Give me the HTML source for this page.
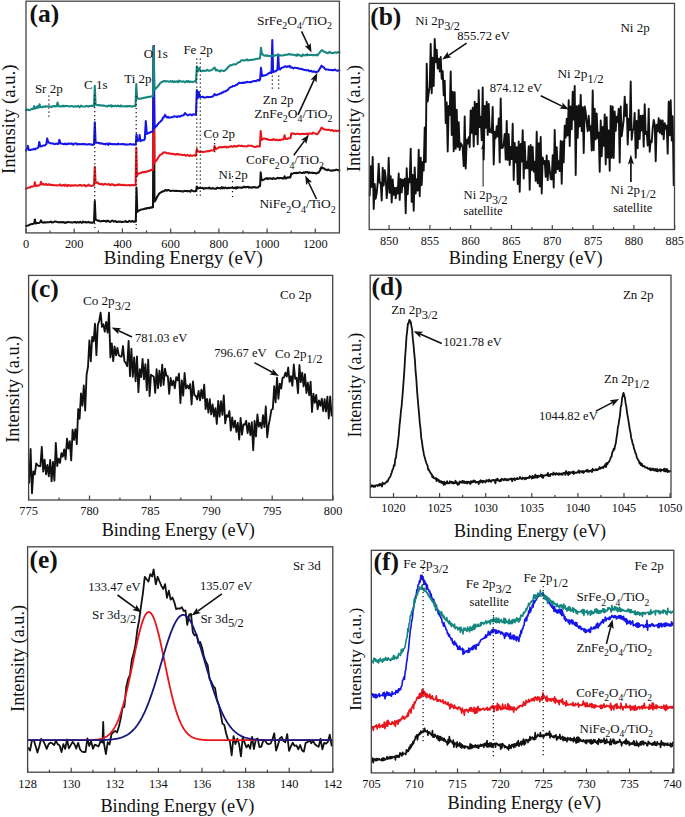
<!DOCTYPE html>
<html><head><meta charset="utf-8"><style>
html,body{margin:0;padding:0;background:#fff;width:685px;height:817px;overflow:hidden}
svg{display:block}
text{font-family:"Liberation Serif",serif}
</style></head><body>
<svg width="685" height="817" viewBox="0 0 685 817" font-family="Liberation Serif">
<rect width="685" height="817" fill="#fff"/>
<polyline points="26,226 27,225.66 28,225.5 29,225.18 30,224.5 31,224.25 32,224.06 33,224 34.3,223 34.9,219.5 35.6,223.5 36.73,223.01 37.87,223.09 39,223 40.4,222 41,220.4 42,222.3 43,222.66 44,222.38 45,222.2 46,222.54 47,222.25 48,222.28 49,222.18 50,222.1 50.91,221.53 51.82,222.42 52.73,222.3 53.64,222.31 54.55,221.55 55.45,221.54 56.36,221.85 57.27,222.01 58.18,222.29 59.09,222.17 60,222.38 60.91,221.98 61.82,222.33 62.73,222.37 63.64,222 64.55,222.85 65.45,222.45 66.36,222.68 67.27,222.06 68.18,222.02 69.09,222.17 70,222.3 70.92,222.26 71.85,222.52 72.77,222.39 73.69,222.14 74.62,221.97 75.54,222.12 76.46,222.73 77.38,222.02 78.31,222.39 79.23,222.45 80.15,221.78 81.08,222.32 82,222.76 82.92,221.59 83.85,222.19 84.77,222.26 85.69,222.01 86.62,222.47 87.54,222.28 88.46,221.79 89.38,222.59 90.31,222.53 91.23,222.63 92.15,222.8 93.08,222.43 94,222.3 94.8,201.1 95.6,219.5 96.8,220.19 98,220.8 99,220.55 100,221.2 100.91,221.43 101.82,221.02 102.73,221.1 103.64,220.83 104.55,220.95 105.45,221.12 106.36,221.78 107.27,220.63 108.18,220.85 109.09,221.47 110,221.91 110.91,221.62 111.82,220.77 112.73,220.57 113.64,221.6 114.55,221.23 115.45,221.12 116.36,221.87 117.27,221.93 118.18,221.62 119.09,221.67 120,221.6 120.93,221.75 121.86,222.15 122.79,221.8 123.72,221.76 124.65,221.76 125.58,221.02 126.51,222.01 127.44,221.89 128.36,221.73 129.29,220.85 130.22,221.31 131.15,221.82 132.08,220.89 133.01,221.45 133.94,221.87 134.87,221.05 135.8,221.5 136.5,187.6 137.3,212 138,210.4 139,210.71 140,210.08 141,209.58 142,209.49 143,209.34 144,208.9 145,208.6 146,208.83 147,208.02 148,207.93 149,208.26 150,207.73 151,207.24 152,207.71 153,207.2 153.7,46 154.5,201.6 155.75,199.81 157,197 158,195.48 159,193.78 160,192.9 161,192.31 162,191.77 163,191.18 164,191.23 165,190.2 165.94,189.89 166.88,190.74 167.81,189.91 168.75,190.12 169.69,190.67 170.62,190.9 171.56,190.85 172.5,190.72 173.44,190.7 174.38,190.75 175.31,190.95 176.25,190.74 177.19,190.95 178.12,191.1 179.06,190.95 180,191 180.94,191.27 181.88,191.21 182.82,191.72 183.76,191.14 184.71,190.88 185.65,190.9 186.59,191.04 187.53,191.37 188.47,190.94 189.41,191.19 190.35,191.71 191.29,190.17 192.24,190.68 193.18,191.17 194.12,191.23 195.06,191.18 196,191.1 196.8,186.5 198,188.5 199,188 200,187.8 200.91,188.09 201.82,188.03 202.73,187.81 203.64,188.91 204.55,188.24 205.45,187.99 206.36,188.21 207.27,188.23 208.18,188.35 209.09,187.48 210,188.5 210.9,188.3 211.8,188.79 212.7,188 213.6,188.35 214.5,188.67 215.4,188.61 216.3,188.8 217.2,187.65 218.1,188.09 219,188.06 219.9,188.37 220.8,188.5 221.7,187.15 222.6,188.43 223.5,187.51 224.4,188.23 225.3,187.43 226.2,187.99 227.1,188.31 228,187.81 228.9,187.89 229.8,188.07 230.7,187.81 231.6,187.7 232.5,187.7 233.42,188.21 234.34,188.01 235.26,187.52 236.18,188.56 237.11,187.17 238.03,187.86 238.95,187.42 239.87,187.54 240.79,187.71 241.71,187.51 242.63,187.63 243.55,186.85 244.47,186.83 245.39,187.55 246.32,186.97 247.24,186.92 248.16,186.74 249.08,187.67 250,187.2 251,187.5 252,187.8 253,187 254,187.37 255,187.02 256,187.73 257,187.5 258.03,187.56 259.07,186.19 260.1,186 260.7,172.4 261.5,180 262.67,180.15 263.83,179.55 265,178.8 265.94,178.69 266.88,178.01 267.81,179.14 268.75,178.57 269.69,178.34 270.62,178.64 271.56,178.59 272.5,178.92 273.44,177.99 274.38,178.7 275.31,178.77 276.25,178.71 277.19,178.09 278.12,177.84 279.06,178.41 280,178 280.95,178.09 281.9,178.14 282.85,178.65 283.8,178.2 284.6,176.3 285.5,178.5 286.46,178.21 287.42,177.3 288.38,177.76 289.34,177.05 290.3,177.5 291.3,173.5 292.27,173.66 293.23,173.37 294.2,172.92 295.17,173.01 296.13,173.18 297.1,172.79 298.07,173.11 299.03,172.5 300,172.4 300.94,172.8 301.88,173 302.81,173.08 303.75,172.31 304.69,172.9 305.62,171.97 306.56,172.28 307.5,172.01 308.44,173.11 309.38,172.34 310.31,172.81 311.25,172.78 312.19,172.88 313.12,172.72 314.06,173.04 315,173 316.17,173.56 317.33,172.88 318.5,172.8 319.5,171.19 320.5,169.55 321.5,167.4 322.67,168.03 323.83,168.36 325,169.5 326,169.49 327,170.24 328,169.46 329,170.01 330,170.4 330.94,170.72 331.88,170.62 332.82,170.31 333.76,170.56 334.7,170.31 335.64,169.81 336.58,169.64 337.52,169.94 338.46,170.45 339.4,170.1" fill="none" stroke="#111" stroke-width="2.05" stroke-linejoin="round" stroke-linecap="round" />
<polyline points="26,188.8 27,188.28 28,187.83 29,187.56 30,187.5 31,186.63 32,186.79 33,186.5 34.3,185.5 34.9,182.2 35.6,186 36.73,185.42 37.87,185.79 39,185.5 40.4,184.5 41,181.8 42.2,184.5 43.18,183.74 44.15,184.74 45.12,184.46 46.1,184.07 47.08,185.07 48.05,184.78 49.02,184.16 50,185 50.91,184.71 51.82,185.13 52.73,184.88 53.64,185.33 54.55,185.33 55.45,185.32 56.36,185.21 57.27,185.58 58.18,185.35 59.09,185.29 60,184.42 60.91,185.48 61.82,185.64 62.73,185.09 63.64,185.04 64.55,185.9 65.45,184.62 66.36,185.41 67.27,186.11 68.18,184.95 69.09,185.53 70,185.3 70.92,185.97 71.85,185.27 72.77,185.52 73.69,185.65 74.62,185.02 75.54,185.31 76.46,185.46 77.38,185.65 78.31,185.36 79.23,185.31 80.15,185.03 81.08,185.27 82,185.71 82.92,185.44 83.85,185.12 84.77,185.13 85.69,186.36 86.62,185.84 87.54,185.67 88.46,184.55 89.38,185.68 90.31,185.64 91.23,186.07 92.15,185.63 93.08,185.47 94,185.5 94.8,167 95.6,182.2 96.7,182.83 97.8,182.42 98.9,183.91 100,184 100.91,184.16 101.82,183.85 102.73,184.6 103.64,184.82 104.55,183.74 105.45,184.04 106.36,184.42 107.27,184.43 108.18,184.27 109.09,184.11 110,185.24 110.91,184.91 111.82,184.17 112.73,184.17 113.64,185.28 114.55,185.07 115.45,185.41 116.36,185.1 117.27,184.56 118.18,185 119.09,184.2 120,185 120.92,184.75 121.84,185 122.75,185.22 123.67,184.79 124.59,185.02 125.51,185.23 126.42,185.21 127.34,185.32 128.26,185.18 129.18,185 130.09,185.41 131.01,185.16 131.93,184.86 132.85,184.95 133.76,185.18 134.68,185.15 135.6,185.2 136.3,147.7 137,176 138,173.6 139,173.4 140,173.09 141,172.89 142,172.52 143,171.87 144,172.2 145,171.8 146,171.94 147,171.5 148,171.06 149,171.06 150,170.34 151,169.79 152,170.25 153,170 153.7,46 154.5,163 155.67,161.01 156.83,159.93 158,158 159,156.54 160,154.92 161,154.4 162,154.23 163,152.6 164,152.58 165,152.35 166,152.68 167,153.24 168,153.35 169,153.35 170,153.4 170.91,154.02 171.82,153.85 172.73,153.69 173.64,154.01 174.55,154.48 175.45,154.34 176.36,154.46 177.27,153.82 178.18,154.25 179.09,154.66 180,154.5 180.94,154.47 181.88,155.02 182.82,154.92 183.76,155.1 184.71,154.78 185.65,155.81 186.59,155.43 187.53,154.99 188.47,155.17 189.41,156.11 190.35,155.16 191.29,155.65 192.24,155.76 193.18,155.49 194.12,155.15 195.06,155.7 196,155.7 196.8,149 198,151.5 199,151.65 200,151.95 201,151.86 202,151.62 203,151.94 204,151.86 205,151.7 206,151.59 207,151.36 208,151.07 209,151.22 210,150.8 210.95,150.36 211.9,150.43 212.85,150.58 213.8,150.5 214.6,145.9 215.6,149.5 216.7,148.44 217.8,148.25 218.9,147.15 220,147.3 220.94,147 221.88,147.39 222.81,147.33 223.75,147.06 224.69,146.94 225.62,146.47 226.56,147.55 227.5,147.03 228.44,147.18 229.38,146.43 230.31,146.62 231.25,145.99 232.19,146.84 233.12,146.84 234.06,145.79 235,146.4 235.94,146.34 236.88,146.55 237.81,145.67 238.75,145.61 239.69,145.84 240.62,145.95 241.56,145.65 242.5,146.11 243.44,146.15 244.38,146.25 245.31,146.23 246.25,146.48 247.19,146.32 248.12,145.42 249.06,145.66 250,145.8 251,145.65 252,145.86 253,146.43 254,146.68 255,146.9 255.96,146.99 256.92,146.18 257.88,146.23 258.84,146.57 259.8,146.5 260.7,131 261.6,140 262.8,139.18 264,138.5 265,138.62 266,138.94 267,138.93 268,139.68 269,139.79 270,139.9 270.91,139.9 271.82,139.72 272.73,139.92 273.64,139.06 274.55,139.69 275.45,140.08 276.36,139.56 277.27,140.19 278.18,140.2 279.09,139.69 280,140.2 280.95,139.81 281.9,139.49 282.85,139.46 283.8,139 284.6,135.2 285.5,139 286.75,138.96 288,138.5 289.25,138.24 290.5,138 291.3,133.5 292.27,133.29 293.23,133.63 294.2,133.74 295.17,134.11 296.13,134.05 297.1,133.78 298.07,133.65 299.03,134.08 300,134.3 300.91,133.97 301.82,133.77 302.73,134.04 303.64,133.84 304.55,133.97 305.45,134.05 306.36,133.65 307.27,134.53 308.18,133.53 309.09,133.96 310,133.5 311,133.54 312,133.89 313,132.67 314,133.24 315,133.59 316,133.71 317,134.32 318,133.5 319.17,131.65 320.33,130.01 321.5,127.6 322.67,128.5 323.83,129.2 325,129.5 326,129.8 327,129.69 328,130.04 329,129.6 330,130.1 330.94,130.6 331.88,129.92 332.82,130.46 333.76,131.2 334.7,130.47 335.64,130.65 336.58,131.14 337.52,130.83 338.46,130.63 339.4,131" fill="none" stroke="#e8161c" stroke-width="2.05" stroke-linejoin="round" stroke-linecap="round" />
<polyline points="26,150.6 27.3,148 27.9,145.9 28.8,150 29.87,149.92 30.93,149.87 32,149.5 33,149.5 34,148.73 35,149.36 36,148.5 37.25,148.33 38.5,147 39.3,142 40.3,146.5 41.22,146.26 42.15,146.09 43.08,145.6 44,145.5 45.2,145.24 46.4,144 47.2,138.4 48.3,142.5 49.22,142.53 50.15,143.29 51.08,143.16 52,143.6 52.93,143.39 53.86,143.91 54.79,144.15 55.71,143.71 56.64,143.51 57.57,144.06 58.5,143.8 59.4,139.8 60.4,143.5 61.36,143.51 62.32,143.67 63.28,144.12 64.24,144.02 65.2,143.47 66.16,144.48 67.12,143.71 68.08,144.02 69.04,143.54 70,143.8 70.91,143.82 71.82,143.26 72.73,144.53 73.64,144.42 74.55,143.56 75.45,143.49 76.36,143.49 77.27,144.5 78.18,143.97 79.09,144.14 80,144.2 80.93,144.11 81.87,144.2 82.8,143.88 83.73,144.29 84.67,143.8 85.6,144.29 86.53,144.45 87.47,144.52 88.4,144.3 89.33,144.08 90.27,144.48 91.2,144.27 92.13,145.01 93.07,144.75 94,144.5 94.8,122.3 95.6,142.4 96.7,142.63 97.8,142.79 98.9,142.98 100,143.5 100.91,143.22 101.82,143.47 102.73,143.74 103.64,143.86 104.55,143.93 105.45,144.51 106.36,143.57 107.27,143.87 108.18,144.89 109.09,143.3 110,144 110.91,143.84 111.82,144.11 112.73,144.14 113.64,144.25 114.55,144.05 115.45,144.29 116.36,144.21 117.27,144.49 118.18,143.58 119.09,143.96 120,144.3 120.93,144.31 121.86,143.96 122.79,143.97 123.72,144.57 124.65,144.13 125.58,144.59 126.51,144.64 127.44,144.5 128.36,144.58 129.29,144.38 130.22,143.94 131.15,144.43 132.08,144.61 133.01,144.28 133.94,144.44 134.87,144.75 135.8,144.5 136.5,134.2 137.3,141 139,140 139.6,135 140.4,141.2 141.5,140.34 142.6,140.32 143.7,140.2 144.8,139 145.8,121 146.8,134 147.87,133.27 148.93,132.98 150,132.4 151,131.88 152,132.01 153,131 153.7,46 154.5,128 155.67,126.78 156.83,125.65 158,124 159,122.78 160,122.04 161,121.07 162,120.1 163,117.75 164,117.14 165,114.9 166,116.51 167,117.5 168,116.89 169,117.76 170,117.5 171,117.25 172,117.26 173,117.03 174,116.18 175,116.5 176,116.45 177,117.06 178,116.36 179,116.22 180,116.6 181.17,115.76 182.33,115.44 183.5,115.5 185,113.1 186,114.07 187,114.8 188,115.29 189,114.75 190,114.5 191,114.6 192,115.32 193,114.37 194,114.33 195,114.77 196,114.6 196.8,90 197.8,98 198.8,92 199.8,97 200.84,97.29 201.88,96.84 202.92,96.89 203.96,97.5 205,97.5 206,97.49 207,96.84 208,97.13 209,96.91 210,97 211,96.99 212,96.63 213,96.5 214.6,94 216,95.3 217,94.82 218,94.28 219,94.32 220,93.5 221,93.57 222,92.54 223,92.55 224,91.57 225,91.44 226,91 227,90.39 228,89.78 229,88.24 230,87.5 231,87.11 232,86.85 233,85.9 234,86.07 235,85.7 236,84.92 237,84.75 238,83.68 239,82.85 240,83 240.91,82.93 241.82,82.93 242.73,82.56 243.64,82.98 244.55,82.5 245.45,82.3 246.36,82.59 247.27,81.8 248.18,82.03 249.09,82.17 250,82.1 251,82.15 252,81.56 253,81.48 254,80.9 255,80.99 256,81.23 257,80.4 258.03,79.86 259.07,80.63 260.1,79.5 261,67.8 262,76 263,75.57 264,75.61 265,75.4 266,74.89 267,74.63 268,73.7 269.17,73.03 270.33,72.5 271.5,73 272.3,40.1 273.1,72 274.18,71.71 275.25,71.28 276.32,70.72 277.4,70 278.2,54.4 279,69 280,69.52 281,68.27 282,67.8 283,67.36 284,67.06 285,66.2 285.94,66.49 286.88,67.09 287.81,66.24 288.75,66.69 289.69,65.78 290.62,67.42 291.56,67.16 292.5,67.77 293.44,68.36 294.38,67.76 295.31,67.83 296.25,67.9 297.19,67.94 298.12,68.17 299.06,68.77 300,68.7 300.94,68.92 301.88,69.14 302.81,69.26 303.75,69.85 304.69,69.9 305.62,69.89 306.56,70.38 307.5,70.3 308.44,70.15 309.38,71.27 310.31,71.13 311.25,70.84 312.19,71.76 313.12,71.71 314.06,71.25 315,72 316,72.4 317,71.78 318,71.5 319.17,69.88 320.33,67.7 321.5,65.7 322.67,66.75 323.83,67.36 325,69 326,69.54 327,69.41 328,69.5 329,69.92 330,70 330.94,70.07 331.88,70.32 332.82,69.99 333.76,70.15 334.7,69.45 335.64,70.09 336.58,70.52 337.52,70.79 338.46,70.23 339.4,70.4" fill="none" stroke="#1515e8" stroke-width="2.05" stroke-linejoin="round" stroke-linecap="round" />
<polyline points="26,110.2 27,109.81 28,109.5 29,110.3 30,110 31,109.29 32,108.8 33.4,109 34.2,106 35,108.5 36.4,108 37.2,106.2 38,107.8 38.8,107.5 39.5,104.2 40.4,107 41.3,107.13 42.2,107.34 43.1,106.64 44,106.5 45,106.9 46,106.2 47,106.5 48,106.4 48.96,106.36 49.91,106.42 50.87,106.76 51.82,107.19 52.78,106.11 53.73,106.13 54.69,106.5 55.64,105.94 56.6,106.3 57.6,102.6 58.6,106.2 59.55,106.37 60.5,106.4 61.45,106.1 62.4,106.39 63.35,105.66 64.3,106.47 65.25,105.66 66.2,105.96 67.15,106.01 68.1,106.06 69.05,106.5 70,106.2 70.92,106.23 71.85,106.07 72.77,106.4 73.69,106.77 74.62,106.22 75.54,106.35 76.46,106.66 77.38,106.32 78.31,105.79 79.23,107.11 80.15,107.02 81.08,105.55 82,106.24 82.92,106.4 83.85,106.6 84.77,106.5 85.69,106.17 86.62,105.9 87.54,106.31 88.46,106.64 89.38,105.9 90.31,105.93 91.23,106.28 92.15,105.61 93.08,106.21 94,106.3 94.8,85.7 95.6,104.8 96.7,104.82 97.8,105.31 98.9,105.08 100,105.5 100.91,105.24 101.82,105.45 102.73,105.62 103.64,105.45 104.55,105.73 105.45,106.04 106.36,106.23 107.27,106.46 108.18,105.63 109.09,105.81 110,106 110.91,105.14 111.82,106.68 112.73,105.77 113.64,106.02 114.55,106.22 115.46,105.57 116.38,106.21 117.29,106.05 118.2,105.43 119.11,106.17 120.02,106.5 120.93,105.43 121.84,106.38 122.75,106.17 123.66,106.27 124.57,106.27 125.48,106.58 126.39,106.05 127.3,106.44 128.21,106 129.12,106.4 130.04,105.87 130.95,106.13 131.86,106.78 132.77,106.33 133.68,106.13 134.59,105.79 135.5,106.2 136.3,84 137.1,98.8 138.07,98.42 139.03,98.67 140,98.5 141,98.63 142,98.25 143,98.08 144,97.69 145,97.5 146,97.81 147,97.04 148,96.82 149,97.16 150,96.71 151,96.43 152,96.16 153,96.2 153.7,46.3 154.5,90 155.67,88.58 156.83,87.55 158,86 159,84.96 160,83.24 161,82.5 162,82.05 163,81.3 163.94,81.37 164.89,80.97 165.83,81.6 166.78,81.25 167.72,81.24 168.67,81.65 169.61,81.84 170.56,81.15 171.5,81.55 172.44,81.1 173.39,82.23 174.33,81.26 175.28,81.86 176.22,81.23 177.17,81.75 178.11,82.25 179.06,80.6 180,81.5 180.94,81.37 181.88,81.71 182.82,81.52 183.76,81.34 184.71,82.34 185.65,81.63 186.59,81.05 187.53,81.94 188.47,81.06 189.41,82.08 190.35,81.49 191.29,81.76 192.24,82.17 193.18,81.79 194.12,81.28 195.06,81.19 196,81.8 196.8,66.4 197.8,71.5 199,68 200.5,70.8 201.45,71.18 202.4,71 203.35,70.42 204.3,70.98 205.25,70.82 206.2,70.85 207.15,69.8 208.1,70.45 209.05,70.85 210,70.5 211,70.26 212,69.81 213,69 214.6,67.5 216,70.5 216.96,69.67 217.91,70.63 218.87,70.77 219.82,71.53 220.78,70.33 221.73,70.58 222.69,70.75 223.64,71.08 224.6,70.8 225.66,69.58 226.72,69.08 227.78,67.34 228.84,66.65 229.9,65.5 230.92,65.12 231.94,65.16 232.96,64.66 233.98,64.14 235,64.5 236,64.28 237,63.41 238,62.5 239,62.17 240,61.85 241,60.56 242,60.3 243,60.22 244,60.41 245,60.37 246,60.03 247,59.38 248,60.51 249,60.15 250,60 251,59.88 252,59.66 253,59.73 254,59.37 255,59.4 256,58.86 257,58.78 258,58.65 259,58.47 260,58.5 261,47.7 262,54.4 263,54.54 264,55.5 265,55.81 266,55.21 267,55.98 268,55.48 269,56.04 270,56 270.91,56.42 271.82,55.94 272.73,55.55 273.64,55.76 274.55,55.73 275.45,55.01 276.36,55.34 277.27,55.55 278.18,55.26 279.09,55.39 280,55.3 280.91,55.48 281.82,55.42 282.73,55.4 283.64,55.22 284.55,54.84 285.45,54.86 286.36,54.7 287.27,54.61 288.18,54.58 289.09,53.97 290,54.5 290.91,54.47 291.82,54.67 292.73,54.43 293.64,54.86 294.55,55.13 295.45,54.99 296.36,55.86 297.27,54.32 298.18,55.25 299.09,54.77 300,55.5 300.91,55.78 301.82,56.3 302.73,54.43 303.64,55.29 304.55,55.36 305.45,55.01 306.36,55.25 307.27,54.21 308.18,55.23 309.09,54.99 310,54.8 310.91,54.9 311.82,54.77 312.74,55.29 313.65,54.98 314.56,55.32 315.48,55.15 316.39,54.63 317.3,55.5 318.35,54.16 319.4,52.92 320.45,51.79 321.5,50.2 322.4,50.35 323.3,51.11 324.2,51.8 325.1,52.09 326,52.5 326.96,52.95 327.91,53.23 328.87,52.22 329.83,51.88 330.79,52.87 331.74,53.12 332.7,52.92 333.66,52.9 334.61,52.41 335.57,52.39 336.53,52.97 337.49,52.35 338.44,52.05 339.4,52.7" fill="none" stroke="#16877f" stroke-width="2.05" stroke-linejoin="round" stroke-linecap="round" />
<line x1="48.9" y1="95.5" x2="48.9" y2="118" stroke="#111" stroke-width="1.2" stroke-dasharray="1.2 2.8"/>
<line x1="94.8" y1="95" x2="94.8" y2="228" stroke="#111" stroke-width="1.2" stroke-dasharray="1.2 2.8"/>
<line x1="136.2" y1="96" x2="136.2" y2="229" stroke="#111" stroke-width="1.2" stroke-dasharray="1.2 2.8"/>
<line x1="196.8" y1="58.5" x2="196.8" y2="197" stroke="#111" stroke-width="1.2" stroke-dasharray="1.2 2.8"/>
<line x1="200.3" y1="58.5" x2="200.3" y2="197" stroke="#111" stroke-width="1.2" stroke-dasharray="1.2 2.8"/>
<line x1="214.6" y1="139" x2="214.6" y2="153" stroke="#111" stroke-width="1.2" stroke-dasharray="1.2 2.8"/>
<line x1="232.5" y1="176" x2="232.5" y2="197" stroke="#111" stroke-width="1.2" stroke-dasharray="1.2 3.8"/>
<line x1="272.3" y1="75.5" x2="272.3" y2="90" stroke="#111" stroke-width="1.2" stroke-dasharray="1.2 2.8"/>
<line x1="278.7" y1="75.5" x2="278.7" y2="90" stroke="#111" stroke-width="1.2" stroke-dasharray="1.2 2.8"/>
<rect x="26" y="1.2" width="313.4" height="231.7" fill="none" stroke="#444" stroke-width="1.3"/>
<line x1="26" y1="232.9" x2="26" y2="228.4" stroke="#444" stroke-width="1.2"/>
<line x1="74.22" y1="232.9" x2="74.22" y2="228.4" stroke="#444" stroke-width="1.2"/>
<line x1="122.43" y1="232.9" x2="122.43" y2="228.4" stroke="#444" stroke-width="1.2"/>
<line x1="170.65" y1="232.9" x2="170.65" y2="228.4" stroke="#444" stroke-width="1.2"/>
<line x1="218.86" y1="232.9" x2="218.86" y2="228.4" stroke="#444" stroke-width="1.2"/>
<line x1="267.08" y1="232.9" x2="267.08" y2="228.4" stroke="#444" stroke-width="1.2"/>
<line x1="315.29" y1="232.9" x2="315.29" y2="228.4" stroke="#444" stroke-width="1.2"/>
<line x1="50.11" y1="232.9" x2="50.11" y2="230.4" stroke="#444" stroke-width="1.2"/>
<line x1="98.32" y1="232.9" x2="98.32" y2="230.4" stroke="#444" stroke-width="1.2"/>
<line x1="146.54" y1="232.9" x2="146.54" y2="230.4" stroke="#444" stroke-width="1.2"/>
<line x1="194.75" y1="232.9" x2="194.75" y2="230.4" stroke="#444" stroke-width="1.2"/>
<line x1="242.97" y1="232.9" x2="242.97" y2="230.4" stroke="#444" stroke-width="1.2"/>
<line x1="291.18" y1="232.9" x2="291.18" y2="230.4" stroke="#444" stroke-width="1.2"/>
<text x="26" y="248.4" font-size="12.4" text-anchor="middle" font-weight="normal" fill="#111" >0</text>
<text x="74.22" y="248.4" font-size="12.4" text-anchor="middle" font-weight="normal" fill="#111" >200</text>
<text x="122.43" y="248.4" font-size="12.4" text-anchor="middle" font-weight="normal" fill="#111" >400</text>
<text x="170.65" y="248.4" font-size="12.4" text-anchor="middle" font-weight="normal" fill="#111" >600</text>
<text x="218.86" y="248.4" font-size="12.4" text-anchor="middle" font-weight="normal" fill="#111" >800</text>
<text x="267.08" y="248.4" font-size="12.4" text-anchor="middle" font-weight="normal" fill="#111" >1000</text>
<text x="315.29" y="248.4" font-size="12.4" text-anchor="middle" font-weight="normal" fill="#111" >1200</text>
<text x="103.8" y="263.9" font-size="18.74" fill="#111" textLength="159" lengthAdjust="spacingAndGlyphs">Binding Energy (eV)</text>
<text transform="translate(14.6,119.2) rotate(-90)" font-size="18.7" text-anchor="middle" fill="#111">Intensity (a.u.)</text>
<text x="29.5" y="22" font-size="25.5" text-anchor="start" font-weight="bold" fill="#111" >(a)</text>
<text x="34.9" y="93.2" font-size="13" text-anchor="start" font-weight="normal" fill="#111" >Sr 2p</text>
<text x="84" y="89.2" font-size="13" text-anchor="start" font-weight="normal" fill="#111" >C 1s</text>
<text x="124.2" y="83" font-size="13" text-anchor="start" font-weight="normal" fill="#111" >Ti 2p</text>
<text x="143.7" y="58.2" font-size="13" text-anchor="start" font-weight="normal" fill="#111" >O 1s</text>
<text x="183.4" y="53.6" font-size="13" text-anchor="start" font-weight="normal" fill="#111" >Fe 2p</text>
<text x="262.7" y="104" font-size="13" text-anchor="start" font-weight="normal" fill="#111" >Zn 2p</text>
<text x="203.6" y="137.7" font-size="13" text-anchor="start" font-weight="normal" fill="#111" >Co 2p</text>
<text x="218.5" y="178.8" font-size="13" text-anchor="start" font-weight="normal" fill="#111" >Ni 2p</text>
<text x="256.9" y="24.5" font-size="13" text-anchor="start" fill="#111" textLength="75.1" lengthAdjust="spacingAndGlyphs"><tspan dy="0">SrFe</tspan><tspan dy="4.55" font-size="9.62">2</tspan><tspan dy="-4.55">O</tspan><tspan dy="4.55" font-size="9.62">4</tspan><tspan dy="-4.55">/TiO</tspan><tspan dy="4.55" font-size="9.62">2</tspan></text>
<text x="254.3" y="117.9" font-size="13" text-anchor="start" fill="#111" textLength="78.1" lengthAdjust="spacingAndGlyphs"><tspan dy="0">ZnFe</tspan><tspan dy="4.55" font-size="9.62">2</tspan><tspan dy="-4.55">O</tspan><tspan dy="4.55" font-size="9.62">4</tspan><tspan dy="-4.55">/TiO</tspan><tspan dy="4.55" font-size="9.62">2</tspan></text>
<text x="246" y="164.1" font-size="13" text-anchor="start" fill="#111" textLength="78" lengthAdjust="spacingAndGlyphs"><tspan dy="0">CoFe</tspan><tspan dy="4.55" font-size="9.62">2</tspan><tspan dy="-4.55">O</tspan><tspan dy="4.55" font-size="9.62">4</tspan><tspan dy="-4.55">/TiO</tspan><tspan dy="4.55" font-size="9.62">2</tspan></text>
<text x="259.4" y="208.2" font-size="13" text-anchor="start" fill="#111" textLength="76.4" lengthAdjust="spacingAndGlyphs"><tspan dy="0">NiFe</tspan><tspan dy="4.55" font-size="9.62">2</tspan><tspan dy="-4.55">O</tspan><tspan dy="4.55" font-size="9.62">4</tspan><tspan dy="-4.55">/TiO</tspan><tspan dy="4.55" font-size="9.62">2</tspan></text>
<line x1="301.6" y1="31.4" x2="308.44" y2="45.98" stroke="#111" stroke-width="1.6"/>
<polygon points="311.5,52.5 304.69,45.75 308.44,45.98 310.66,42.95" fill="#111"/>
<line x1="298" y1="114.8" x2="314.29" y2="79.44" stroke="#111" stroke-width="1.6"/>
<polygon points="317.3,72.9 316.53,82.46 314.29,79.44 310.54,79.69" fill="#111"/>
<line x1="293.8" y1="155.3" x2="304.63" y2="140.6" stroke="#111" stroke-width="1.6"/>
<polygon points="308.9,134.8 306.22,144 304.63,140.6 300.91,140.09" fill="#111"/>
<line x1="316.5" y1="199" x2="308.32" y2="181.99" stroke="#111" stroke-width="1.6"/>
<polygon points="305.2,175.5 312.07,182.18 308.32,181.99 306.13,185.04" fill="#111"/>
<polyline points="369.7,195.37 370.7,166.24 371.7,186.87 372.7,156.86 373.7,208.97 374.7,183.83 375.7,198.7 376.7,193.29 377.7,182.65 378.7,163.6 379.7,182.7 380.7,182.81 381.7,200.51 382.7,167.8 383.7,185.46 384.7,170.25 385.7,177.35 386.7,198.14 387.7,187.85 388.7,157.74 389.7,192.68 390.7,176.32 391.7,202.5 392.7,179.46 393.7,194.76 394.7,187.75 395.7,198.32 396.7,187.58 397.7,193.57 398.7,173.46 399.7,199.92 400.7,179.02 401.7,192.41 402.7,179.59 403.7,186.07 404.7,178.66 405.7,213.26 406.7,168.3 407.7,194.31 408.7,178.62 409.7,182.23 410.7,148.64 411.7,201.87 412.7,175.05 413.7,210.78 414.7,167.33 415.7,193.51 416.7,179.15 417.7,190.66 418.7,149.76 419.7,196.19 420.7,157.59 421.7,184.97 422.7,161.88 423.7,170.45 424.7,127.5 425.7,162.1 426.7,63.72 427.7,101.47 428.7,92.8 429.7,87.26 430.7,43.89 431.7,93.3 432.7,57.6 433.7,85.95 434.7,38.94 435.7,62.29 436.7,49.81 437.7,68.48 438.7,58.58 439.7,71.53 440.7,56.87 441.7,78.82 442.7,71.16 443.7,95.28 444.7,80.82 445.7,122.98 446.7,102.56 447.7,151.53 448.7,105.95 449.7,114.94 450.7,71.46 451.7,134.93 452.7,91.66 453.7,151.27 454.7,92.25 455.7,148.75 456.7,109.72 457.7,146.9 458.7,122.18 459.7,149.93 460.7,143.26 461.7,144.52 462.7,147.77 463.7,166.14 464.7,116.42 465.7,168.47 466.7,139.78 467.7,143.61 468.7,137.29 469.7,147.02 470.7,110.37 471.7,132.86 472.7,107.82 473.7,146.5 474.7,101.74 475.7,134.4 476.7,103.8 477.7,144.21 478.7,90.13 479.7,127.02 480.7,116.59 481.7,140.12 482.7,87.38 483.7,159.53 484.7,106.01 485.7,127.7 486.7,101.65 487.7,134.91 488.7,103.84 489.7,132.15 490.7,129.4 491.7,132.77 492.7,107.01 493.7,164.44 494.7,131.69 495.7,138.17 496.7,126.11 497.7,136.46 498.7,118.48 499.7,162.4 500.7,98.44 501.7,148.01 502.7,147.61 503.7,144.23 504.7,133.94 505.7,159.67 506.7,120.89 507.7,159.89 508.7,134.28 509.7,165 510.7,146.85 511.7,159.06 512.7,123.78 513.7,179.94 514.7,142.91 515.7,162.26 516.7,147.31 517.7,183.97 518.7,141.37 519.7,191.77 520.7,143.94 521.7,161.5 522.7,130.11 523.7,178.58 524.7,141.89 525.7,168.53 526.7,161.6 527.7,168.25 528.7,146.26 529.7,189.76 530.7,145 531.7,169.94 532.7,146.99 533.7,171.55 534.7,161.71 535.7,180.86 536.7,131.71 537.7,183.3 538.7,143.08 539.7,186.37 540.7,136.86 541.7,193.5 542.7,157.36 543.7,163.86 544.7,160.87 545.7,176.83 546.7,155.35 547.7,180.13 548.7,160.89 549.7,169.58 550.7,178.9 551.7,179.58 552.7,155.22 553.7,187.48 554.7,129.92 555.7,172.73 556.7,147.16 557.7,169.25 558.7,161.31 559.7,171.15 560.7,140.97 561.7,183.7 562.7,141.38 563.7,162.42 564.7,125.67 565.7,137.62 566.7,118.77 567.7,135.43 568.7,100.3 569.7,146.09 570.7,106.47 571.7,129.19 572.7,91.68 573.7,119.61 574.7,86.01 575.7,175.08 576.7,106.29 577.7,137.69 578.7,105.45 579.7,126.37 580.7,94.9 581.7,131.09 582.7,107.32 583.7,153.08 584.7,106.47 585.7,112.27 586.7,122.76 587.7,131.19 588.7,115.6 589.7,130.37 590.7,126.16 591.7,150.5 592.7,90.48 593.7,150.24 594.7,108.76 595.7,139.39 596.7,113.37 597.7,138.16 598.7,132.48 599.7,171.85 600.7,120.5 601.7,156.31 602.7,126.9 603.7,145.89 604.7,114.38 605.7,164.4 606.7,117.26 607.7,157.53 608.7,130.39 609.7,170.74 610.7,105.89 611.7,157.84 612.7,106.48 613.7,158.05 614.7,111.51 615.7,130.89 616.7,116.77 617.7,121.92 618.7,108.82 619.7,162.53 620.7,106.44 621.7,136.23 622.7,128.19 623.7,119.81 624.7,96.65 625.7,116.05 626.7,104.5 627.7,144.58 628.7,118.66 629.7,130.02 630.7,81.5 631.7,139.71 632.7,130.47 633.7,128.62 634.7,112.92 635.7,157.72 636.7,120.91 637.7,148.19 638.7,109.93 639.7,138.95 640.7,115.63 641.7,130.52 642.7,115.54 643.7,146.66 644.7,104.23 645.7,133.99 646.7,131.99 647.7,145.51 648.7,108.66 649.7,151.78 650.7,140.78 651.7,142.27 652.7,128.06 653.7,120 654.7,124.68 655.7,161.28 656.7,124.75 657.7,131.41 658.7,118.12 659.7,132.74 660.7,120.28 661.7,134.23 662.7,120.46 663.7,139.31 664.7,123.2 665.7,128.9 666.7,125.55 667.7,153.61 668.7,101.79 669.7,135.18 670.7,100.21 671.7,140.47 672.7,116.23 673.7,185.17" fill="none" stroke="#111" stroke-width="1.9" stroke-linejoin="round" stroke-linecap="round" />
<rect x="369.2" y="3.4" width="305.3" height="226.1" fill="none" stroke="#444" stroke-width="1.3"/>
<line x1="389.1" y1="229.5" x2="389.1" y2="225" stroke="#444" stroke-width="1.2"/>
<line x1="429.9" y1="229.5" x2="429.9" y2="225" stroke="#444" stroke-width="1.2"/>
<line x1="470.7" y1="229.5" x2="470.7" y2="225" stroke="#444" stroke-width="1.2"/>
<line x1="511.5" y1="229.5" x2="511.5" y2="225" stroke="#444" stroke-width="1.2"/>
<line x1="552.3" y1="229.5" x2="552.3" y2="225" stroke="#444" stroke-width="1.2"/>
<line x1="593.1" y1="229.5" x2="593.1" y2="225" stroke="#444" stroke-width="1.2"/>
<line x1="633.9" y1="229.5" x2="633.9" y2="225" stroke="#444" stroke-width="1.2"/>
<line x1="674.7" y1="229.5" x2="674.7" y2="225" stroke="#444" stroke-width="1.2"/>
<line x1="409.5" y1="229.5" x2="409.5" y2="227" stroke="#444" stroke-width="1.2"/>
<line x1="450.3" y1="229.5" x2="450.3" y2="227" stroke="#444" stroke-width="1.2"/>
<line x1="491.1" y1="229.5" x2="491.1" y2="227" stroke="#444" stroke-width="1.2"/>
<line x1="531.9" y1="229.5" x2="531.9" y2="227" stroke="#444" stroke-width="1.2"/>
<line x1="572.7" y1="229.5" x2="572.7" y2="227" stroke="#444" stroke-width="1.2"/>
<line x1="613.5" y1="229.5" x2="613.5" y2="227" stroke="#444" stroke-width="1.2"/>
<line x1="654.3" y1="229.5" x2="654.3" y2="227" stroke="#444" stroke-width="1.2"/>
<text x="389.1" y="244.5" font-size="12.2" text-anchor="middle" font-weight="normal" fill="#111" >850</text>
<text x="429.9" y="244.5" font-size="12.2" text-anchor="middle" font-weight="normal" fill="#111" >855</text>
<text x="470.7" y="244.5" font-size="12.2" text-anchor="middle" font-weight="normal" fill="#111" >860</text>
<text x="511.5" y="244.5" font-size="12.2" text-anchor="middle" font-weight="normal" fill="#111" >865</text>
<text x="552.3" y="244.5" font-size="12.2" text-anchor="middle" font-weight="normal" fill="#111" >870</text>
<text x="593.1" y="244.5" font-size="12.2" text-anchor="middle" font-weight="normal" fill="#111" >875</text>
<text x="633.9" y="244.5" font-size="12.2" text-anchor="middle" font-weight="normal" fill="#111" >880</text>
<text x="674.7" y="244.5" font-size="12.2" text-anchor="middle" font-weight="normal" fill="#111" >885</text>
<text x="448.8" y="263.9" font-size="18.11" fill="#111" textLength="153.7" lengthAdjust="spacingAndGlyphs">Binding Energy (eV)</text>
<text transform="translate(359.8,118.5) rotate(-90)" font-size="18.3" text-anchor="middle" fill="#111">Intensity (a.u.)</text>
<text x="370.2" y="24.5" font-size="25.5" text-anchor="start" font-weight="bold" fill="#111" >(b)</text>
<text x="415.3" y="24.8" font-size="12.8" text-anchor="start" fill="#111" textLength="44.6" lengthAdjust="spacingAndGlyphs"><tspan dy="0">Ni 2p</tspan><tspan dy="4.8" font-size="12.29">3/2</tspan></text>
<text x="457.3" y="40.2" font-size="12.6" text-anchor="start" font-weight="normal" fill="#111" >855.72 eV</text>
<line x1="466.6" y1="43.2" x2="448.08" y2="55.59" stroke="#111" stroke-width="1.6"/>
<polygon points="442.1,59.6 447.74,51.85 448.08,55.59 451.41,57.34" fill="#111"/>
<text x="489.7" y="91.6" font-size="12.6" text-anchor="start" font-weight="normal" fill="#111" >874.12 eV</text>
<line x1="540.7" y1="95.8" x2="562.52" y2="106.36" stroke="#111" stroke-width="1.6"/>
<polygon points="569,109.5 559.46,108.55 562.52,106.36 562.34,102.61" fill="#111"/>
<text x="557.4" y="77.8" font-size="12.8" text-anchor="start" fill="#111" textLength="46.3" lengthAdjust="spacingAndGlyphs"><tspan dy="0">Ni 2p</tspan><tspan dy="4.8" font-size="12.29">1/2</tspan></text>
<text x="620.4" y="31.6" font-size="13" text-anchor="start" font-weight="normal" fill="#111" >Ni 2p</text>
<text x="463.5" y="198.7" font-size="12.8" text-anchor="start" fill="#111" textLength="44" lengthAdjust="spacingAndGlyphs"><tspan dy="0">Ni 2p</tspan><tspan dy="4.8" font-size="12.29">3/2</tspan></text>
<text x="463.5" y="214.5" font-size="12.6" text-anchor="start" font-weight="normal" fill="#111" >satellite</text>
<line x1="483.1" y1="186.5" x2="483.1" y2="148.3" stroke="#111" stroke-width="1.0"/>
<polygon points="483.1,143.5 485.2,149.5 483.1,148.3 481,149.5" fill="#111"/>
<text x="610.6" y="193.6" font-size="12.8" text-anchor="start" fill="#111" textLength="45.3" lengthAdjust="spacingAndGlyphs"><tspan dy="0">Ni 2p</tspan><tspan dy="4.8" font-size="12.29">1/2</tspan></text>
<text x="613.2" y="212.3" font-size="12.6" text-anchor="start" font-weight="normal" fill="#111" >satellite</text>
<line x1="630.9" y1="182" x2="630.9" y2="162.6" stroke="#111" stroke-width="1.7"/>
<polygon points="630.9,154.6 633.9,164.6 630.9,162.6 627.9,164.6" fill="#111"/>
<polyline points="29.2,482.74 30.6,449.01 32,493.29 33.4,471.47 34.8,474.47 36.2,463.43 37.6,465.25 39,466.13 40.4,466.08 41.8,446.83 43.2,471.68 44.6,459.61 46,474.26 47.4,464.93 48.8,476.32 50.2,459.92 51.6,481.33 53,461.82 54.4,480.62 55.8,442.89 57.2,466.06 58.6,458.7 60,462.92 61.4,453.14 62.8,456.67 64.2,449.53 65.6,459.38 67,438.6 68.4,448.58 69.8,441.13 71.2,460.42 72.6,429.65 74,439.97 75.4,429.22 76.8,444.11 78.2,409.05 79.6,418.75 81,393.37 82.4,405.73 83.8,385.53 85.2,410.51 86.6,374.57 88,366.76 89.4,340.37 90.8,361.22 92.2,337.01 93.6,341.23 95,323.74 96.4,355.11 97.8,324.99 99.2,320.99 100.6,312.57 102,326.89 103.4,324.3 104.8,331.71 106.2,321.92 107.6,332.72 109,312.57 110.4,357.45 111.8,343.41 113.2,361.12 114.6,346.31 116,355.37 117.4,348.02 118.8,355.25 120.2,356.29 121.6,356.61 123,346.05 124.4,361.28 125.8,362.87 127.2,366.23 128.6,341.03 130,376.21 131.4,348.69 132.8,376.76 134.2,357.37 135.6,381.26 137,356.52 138.4,392.15 139.8,369.17 141.2,377.17 142.6,358.82 144,379.31 145.4,364.16 146.8,390.09 148.2,359.57 149.6,395.95 151,374.79 152.4,375.7 153.8,376.7 155.2,392.86 156.6,369.28 158,388.3 159.4,370.74 160.8,385.99 162.2,364.66 163.6,384.82 165,368.68 166.4,375.71 167.8,376.13 169.2,393.92 170.6,378 172,385.42 173.4,380.68 174.8,388.31 176.2,377.11 177.6,380.37 179,373.63 180.4,403.07 181.8,380.31 183.2,395.68 184.6,373.01 186,388.48 187.4,385.34 188.8,388.46 190.2,384.03 191.6,404.47 193,381.5 194.4,395.16 195.8,395.93 197.2,399.45 198.6,390.94 200,400.29 201.4,389.6 202.8,398.29 204.2,384.61 205.6,409.1 207,398.85 208.4,412.6 209.8,399.1 211.2,414.37 212.6,404.45 214,416.46 215.4,408.17 216.8,423.95 218.2,400.9 219.6,416.66 221,401.14 222.4,414.83 223.8,395.53 225.2,423.33 226.6,415.23 228,416.83 229.4,411.05 230.8,430.55 232.2,417.52 233.6,427.65 235,420.69 236.4,431.98 237.8,422.79 239.2,439.6 240.6,417.81 242,434.57 243.4,424.37 244.8,424.69 246.2,420.79 247.6,433.08 249,423.23 250.4,435.24 251.8,422.09 253.2,450.19 254.6,420.84 256,436.52 257.4,414.43 258.8,426.57 260.2,422.62 261.6,428.22 263,415.26 264.4,427.15 265.8,406.46 267.2,437.31 268.6,425.54 270,418.42 271.4,409.82 272.8,408.99 274.2,386.19 275.6,402.36 277,377.64 278.4,398.8 279.8,383.61 281.2,388.57 282.6,377.73 284,377.42 285.4,372.74 286.8,376.65 288.2,367.52 289.6,381.87 291,376.13 292.4,385.78 293.8,364.52 295.2,378.94 296.6,377.64 298,393.19 299.4,365.04 300.8,382.18 302.2,372.61 303.6,386.51 305,374.18 306.4,392.99 307.8,382.55 309.2,395.25 310.6,381.64 312,412.05 313.4,393.76 314.8,402.79 316.2,394.88 317.6,409.24 319,400.47 320.4,405.77 321.8,398.61 323.2,411.09 324.6,399.09 326,411.67 327.4,396.58 328.8,418.55 330.2,396.4 331.6,415.6" fill="none" stroke="#111" stroke-width="1.85" stroke-linejoin="round" stroke-linecap="round" />
<rect x="28.6" y="275.4" width="304.1" height="224.6" fill="none" stroke="#444" stroke-width="1.3"/>
<line x1="28.6" y1="500" x2="28.6" y2="495.5" stroke="#444" stroke-width="1.2"/>
<line x1="89.5" y1="500" x2="89.5" y2="495.5" stroke="#444" stroke-width="1.2"/>
<line x1="150.4" y1="500" x2="150.4" y2="495.5" stroke="#444" stroke-width="1.2"/>
<line x1="211.3" y1="500" x2="211.3" y2="495.5" stroke="#444" stroke-width="1.2"/>
<line x1="272.2" y1="500" x2="272.2" y2="495.5" stroke="#444" stroke-width="1.2"/>
<line x1="333.1" y1="500" x2="333.1" y2="495.5" stroke="#444" stroke-width="1.2"/>
<line x1="59.05" y1="500" x2="59.05" y2="497.5" stroke="#444" stroke-width="1.2"/>
<line x1="119.95" y1="500" x2="119.95" y2="497.5" stroke="#444" stroke-width="1.2"/>
<line x1="180.85" y1="500" x2="180.85" y2="497.5" stroke="#444" stroke-width="1.2"/>
<line x1="241.75" y1="500" x2="241.75" y2="497.5" stroke="#444" stroke-width="1.2"/>
<line x1="302.65" y1="500" x2="302.65" y2="497.5" stroke="#444" stroke-width="1.2"/>
<text x="28.6" y="514.5" font-size="12.4" text-anchor="middle" font-weight="normal" fill="#111" >775</text>
<text x="89.5" y="514.5" font-size="12.4" text-anchor="middle" font-weight="normal" fill="#111" >780</text>
<text x="150.4" y="514.5" font-size="12.4" text-anchor="middle" font-weight="normal" fill="#111" >785</text>
<text x="211.3" y="514.5" font-size="12.4" text-anchor="middle" font-weight="normal" fill="#111" >790</text>
<text x="272.2" y="514.5" font-size="12.4" text-anchor="middle" font-weight="normal" fill="#111" >795</text>
<text x="333.1" y="514.5" font-size="12.4" text-anchor="middle" font-weight="normal" fill="#111" >800</text>
<text x="101.7" y="536.2" font-size="18.05" fill="#111" textLength="153.2" lengthAdjust="spacingAndGlyphs">Binding Energy (eV)</text>
<text transform="translate(19.3,389.2) rotate(-90)" font-size="18.3" text-anchor="middle" fill="#111">Intensity (a.u.)</text>
<text x="30.5" y="297" font-size="25.5" text-anchor="start" font-weight="bold" fill="#111" >(c)</text>
<text x="82.9" y="305.2" font-size="12.8" text-anchor="start" fill="#111" textLength="47.9" lengthAdjust="spacingAndGlyphs"><tspan dy="0">Co 2p</tspan><tspan dy="4.8" font-size="12.29">3/2</tspan></text>
<text x="135" y="341.6" font-size="12.6" text-anchor="start" font-weight="normal" fill="#111" >781.03 eV</text>
<line x1="132" y1="336.9" x2="118.15" y2="330.59" stroke="#111" stroke-width="1.6"/>
<polygon points="111.6,327.6 121.16,328.33 118.15,330.59 118.42,334.34" fill="#111"/>
<text x="214.2" y="357.2" font-size="12.6" text-anchor="start" font-weight="normal" fill="#111" >796.67 eV</text>
<line x1="254.4" y1="362.6" x2="272.67" y2="372.48" stroke="#111" stroke-width="1.6"/>
<polygon points="279,375.9 269.51,374.52 272.67,372.48 272.65,368.72" fill="#111"/>
<text x="275" y="358.4" font-size="12.8" text-anchor="start" fill="#111" textLength="47.6" lengthAdjust="spacingAndGlyphs"><tspan dy="0">Co 2p</tspan><tspan dy="4.8" font-size="12.29">1/2</tspan></text>
<text x="280" y="299.4" font-size="13" text-anchor="start" font-weight="normal" fill="#111" >Co 2p</text>
<polyline points="370.8,486.93 371.5,485.27 372.2,486.35 372.9,485.46 373.6,486.82 374.3,485.66 375,486.83 375.7,485.33 376.4,485.39 377.1,485.06 377.8,485.94 378.5,484.66 379.2,485.49 379.9,483.75 380.6,485.19 381.3,484.13 382,486.48 382.7,482.71 383.4,484.07 384.1,483.53 384.8,483.87 385.5,482.76 386.2,482.26 386.9,481.11 387.6,481.62 388.3,479.75 389,478.28 389.7,477.32 390.4,476.5 391.1,474.05 391.8,472.33 392.5,469.78 393.2,468.83 393.9,465.2 394.6,465.52 395.3,458.77 396,457.56 396.7,450.78 397.4,447.43 398.1,440.86 398.8,434.94 399.5,425.59 400.2,419.71 400.9,411.49 401.6,406.15 402.3,398 403,389.29 403.7,379.47 404.4,369.88 405.1,357.29 405.8,347.81 406.5,336.74 407.2,330.63 407.9,323.67 408.6,323.53 409.3,319.84 410,320.83 410.7,321.75 411.4,326.11 412.1,329.38 412.8,338.83 413.5,344.58 414.2,352.83 414.9,359.79 415.6,371.46 416.3,378.76 417,389.89 417.7,398.44 418.4,406.51 419.1,414.05 419.8,423.04 420.5,428.43 421.2,437.58 421.9,441.45 422.6,446.99 423.3,450.84 424,454.89 424.7,457.32 425.4,460.08 426.1,462.22 426.8,464.15 427.5,465.41 428.2,469.77 428.9,469.51 429.6,471.44 430.3,472.5 431,473.77 431.7,473.99 432.4,477.37 433.1,476.28 433.8,477.92 434.5,478.43 435.2,478.51 435.9,477.91 436.6,481.21 437.3,478.8 438,480.14 438.7,479.88 439.4,482.14 440.1,481.04 440.8,482.44 441.5,481.3 442.2,483.1 442.9,481.92 443.6,484.76 444.3,481.63 445,484.57 445.7,482.72 446.4,483.23 447.1,481.19 447.8,483.41 448.5,483.28 449.2,483.23 449.9,481.23 450.6,482.6 451.3,481.81 452,483.18 452.7,481.88 453.4,483.69 454.1,482.69 454.8,483 455.5,480.74 456.2,483.34 456.9,482.22 457.6,484.8 458.3,483.06 459,484.39 459.7,481.34 460.4,482.56 461.1,481.62 461.8,482.8 462.5,480.92 463.2,482.79 463.9,481.13 464.6,482.97 465.3,481.94 466,483.05 466.7,481.57 467.4,483.53 468.1,481.65 468.8,482.38 469.5,481.87 470.2,484.03 470.9,481.23 471.6,482.77 472.3,481.25 473,482.07 473.7,480.31 474.4,481.92 475.1,481.04 475.8,482.71 476.5,481.85 477.2,481.95 477.9,481.85 478.6,484.05 479.3,481.16 480,482.55 480.7,480.24 481.4,481.79 482.1,480.72 482.8,482.7 483.5,480.86 484.2,481.61 484.9,481.28 485.6,482.5 486.3,480.08 487,480.86 487.7,480.43 488.4,481.53 489.1,479.49 489.8,481.35 490.5,480.69 491.2,481.84 491.9,480.22 492.6,480.09 493.3,479.83 494,480.69 494.7,480.05 495.4,483.38 496.1,479.39 496.8,480.15 497.5,478.63 498.2,480.64 498.9,480.39 499.6,481.25 500.3,479.8 501,480.94 501.7,478.77 502.4,479.54 503.1,479.48 503.8,480.29 504.5,478.7 505.2,479.91 505.9,479 506.6,480.3 507.3,479.23 508,480.39 508.7,479.32 509.4,479.48 510.1,478.72 510.8,479.52 511.5,478.47 512.2,481.25 512.9,478.66 513.6,479.13 514.3,478.24 515,480.39 515.7,478.98 516.4,479.05 517.1,477.84 517.8,479.21 518.5,479.02 519.2,478.76 519.9,476.95 520.6,478.48 521.3,478.25 522,479.2 522.7,477.48 523.4,478.4 524.1,477.96 524.8,479.27 525.5,477.8 526.2,478.9 526.9,477.6 527.6,478.11 528.3,477.71 529,478.06 529.7,475.89 530.4,477.2 531.1,476.93 531.8,478.52 532.5,475.93 533.2,478.18 533.9,476.31 534.6,477.65 535.3,474.64 536,477.55 536.7,475.67 537.4,477.74 538.1,475.56 538.8,476.71 539.5,476.11 540.2,475.86 540.9,474.45 541.6,476.98 542.3,475 543,477.92 543.7,475.41 544.4,475.84 545.1,475.43 545.8,475.11 546.5,474.67 547.2,475.55 547.9,472.97 548.6,476.16 549.3,475.01 550,476.15 550.7,473.85 551.4,474.3 552.1,474.14 552.8,474.85 553.5,472.54 554.2,474.34 554.9,473.79 555.6,474.76 556.3,473.04 557,474.13 557.7,473.69 558.4,474.81 559.1,473.21 559.8,474.5 560.5,473.62 561.2,474.54 561.9,473.32 562.6,474.8 563.3,473.03 564,472.9 564.7,472.78 565.4,474.95 566.1,471.02 566.8,473.25 567.5,472.65 568.2,475.11 568.9,471.81 569.6,474.12 570.3,472.26 571,472.69 571.7,472.27 572.4,473.05 573.1,471.42 573.8,473.96 574.5,472 575.2,472.74 575.9,472.85 576.6,472.88 577.3,472.05 578,472.43 578.7,470.45 579.4,472.99 580.1,471.14 580.8,471.7 581.5,471.31 582.2,472.51 582.9,470.93 583.6,472.84 584.3,471.49 585,471.52 585.7,470.63 586.4,471.4 587.1,469.72 587.8,471.76 588.5,470.49 589.2,471.8 589.9,470.9 590.6,470.77 591.3,470.42 592,472.02 592.7,468.78 593.4,470.46 594.1,470.32 594.8,470.45 595.5,469.25 596.2,469.99 596.9,469.3 597.6,470.16 598.3,468.94 599,469.06 599.7,466.99 600.4,468.73 601.1,467.69 601.8,468.02 602.5,466.9 603.2,468.09 603.9,466.27 604.6,466.62 605.3,464.18 606,467 606.7,462.91 607.4,464.34 608.1,462.63 608.8,462.27 609.5,460.61 610.2,459.31 610.9,457.07 611.6,456.72 612.3,451.97 613,451.54 613.7,448.61 614.4,449.58 615.1,445.41 615.8,443.25 616.5,437.9 617.2,433.59 617.9,427.21 618.6,424.21 619.3,419.31 620,415.36 620.7,407.22 621.4,405.14 622.1,397.92 622.8,395.45 623.5,392.8 624.2,395.23 624.9,397.71 625.6,403.15 626.3,406.28 627,412.05 627.7,416.33 628.4,420.42 629.1,424.86 629.8,429.5 630.5,432.38 631.2,437.94 631.9,440.02 632.6,443.68 633.3,444.94 634,448.68 634.7,450.2 635.4,453.09 636.1,453.9 636.8,457.6 637.5,458.75 638.2,460.2 638.9,460.96 639.6,463.7 640.3,462.82 641,465.17 641.7,463.55 642.4,466.31 643.1,465.76 643.8,466.31 644.5,466.11 645.2,467.49 645.9,467.36 646.6,467.94 647.3,467.56 648,468.86 648.7,468.71 649.4,469.5 650.1,468.09 650.8,470.42 651.5,469.04 652.2,469.86 652.9,468.32 653.6,470.32 654.3,469.24 655,470.58 655.7,468.96 656.4,471.04 657.1,468.87 657.8,471.44 658.5,470.17 659.2,470.38 659.9,469.13 660.6,471.49 661.3,469.66 662,469.98 662.7,469.82 663.4,470.72 664.1,468.66 664.8,471.43 665.5,469.11 666.2,471.43 666.9,468.99 667.6,472.02 668.3,470.65 669,471.83 669.7,471.12 670.4,471.16" fill="none" stroke="#111" stroke-width="1.8" stroke-linejoin="round" stroke-linecap="round" />
<rect x="370.2" y="275.2" width="300.8" height="222.2" fill="none" stroke="#444" stroke-width="1.3"/>
<line x1="393.5" y1="497.4" x2="393.5" y2="492.9" stroke="#444" stroke-width="1.2"/>
<line x1="439.6" y1="497.4" x2="439.6" y2="492.9" stroke="#444" stroke-width="1.2"/>
<line x1="485.7" y1="497.4" x2="485.7" y2="492.9" stroke="#444" stroke-width="1.2"/>
<line x1="531.8" y1="497.4" x2="531.8" y2="492.9" stroke="#444" stroke-width="1.2"/>
<line x1="577.9" y1="497.4" x2="577.9" y2="492.9" stroke="#444" stroke-width="1.2"/>
<line x1="624" y1="497.4" x2="624" y2="492.9" stroke="#444" stroke-width="1.2"/>
<line x1="670.1" y1="497.4" x2="670.1" y2="492.9" stroke="#444" stroke-width="1.2"/>
<line x1="416.55" y1="497.4" x2="416.55" y2="494.9" stroke="#444" stroke-width="1.2"/>
<line x1="462.65" y1="497.4" x2="462.65" y2="494.9" stroke="#444" stroke-width="1.2"/>
<line x1="508.75" y1="497.4" x2="508.75" y2="494.9" stroke="#444" stroke-width="1.2"/>
<line x1="554.85" y1="497.4" x2="554.85" y2="494.9" stroke="#444" stroke-width="1.2"/>
<line x1="600.95" y1="497.4" x2="600.95" y2="494.9" stroke="#444" stroke-width="1.2"/>
<line x1="647.05" y1="497.4" x2="647.05" y2="494.9" stroke="#444" stroke-width="1.2"/>
<text x="393.5" y="512.2" font-size="12.2" text-anchor="middle" font-weight="normal" fill="#111" >1020</text>
<text x="439.6" y="512.2" font-size="12.2" text-anchor="middle" font-weight="normal" fill="#111" >1025</text>
<text x="485.7" y="512.2" font-size="12.2" text-anchor="middle" font-weight="normal" fill="#111" >1030</text>
<text x="531.8" y="512.2" font-size="12.2" text-anchor="middle" font-weight="normal" fill="#111" >1035</text>
<text x="577.9" y="512.2" font-size="12.2" text-anchor="middle" font-weight="normal" fill="#111" >1040</text>
<text x="624" y="512.2" font-size="12.2" text-anchor="middle" font-weight="normal" fill="#111" >1045</text>
<text x="670.1" y="512.2" font-size="12.2" text-anchor="middle" font-weight="normal" fill="#111" >1050</text>
<text x="454.1" y="536.6" font-size="17.88" fill="#111" textLength="151.8" lengthAdjust="spacingAndGlyphs">Binding Energy (eV)</text>
<text transform="translate(360.7,385.1) rotate(-90)" font-size="17.9" text-anchor="middle" fill="#111">Intensity (a.u.)</text>
<text x="371.5" y="294.6" font-size="25.5" text-anchor="start" font-weight="bold" fill="#111" >(d)</text>
<text x="391.2" y="313.7" font-size="12.8" text-anchor="start" fill="#111" textLength="46.6" lengthAdjust="spacingAndGlyphs"><tspan dy="0">Zn 2p</tspan><tspan dy="4.8" font-size="12.29">3/2</tspan></text>
<text x="443.2" y="346.1" font-size="12.6" text-anchor="start" font-weight="normal" fill="#111" >1021.78 eV</text>
<line x1="441.8" y1="343.4" x2="420.11" y2="334.05" stroke="#111" stroke-width="1.6"/>
<polygon points="413.5,331.2 423.07,331.73 420.11,334.05 420.46,337.79" fill="#111"/>
<text x="603.9" y="383.2" font-size="12.8" text-anchor="start" fill="#111" textLength="45.5" lengthAdjust="spacingAndGlyphs"><tspan dy="0">Zn 2p</tspan><tspan dy="4.8" font-size="12.29">1/2</tspan></text>
<text x="539" y="420.3" font-size="12.6" text-anchor="start" font-weight="normal" fill="#111" >1044.82 eV</text>
<line x1="595.9" y1="411.1" x2="612.7" y2="402.41" stroke="#111" stroke-width="1.6"/>
<polygon points="619.1,399.1 612.62,406.17 612.7,402.41 609.59,400.3" fill="#111"/>
<text x="622.9" y="298.8" font-size="13" text-anchor="start" font-weight="normal" fill="#111" >Zn 2p</text>
<polyline points="28.2,747.94 30.05,750.52 31.9,740.57 33.75,740.09 35.6,746 37.45,752.52 39.3,746.25 41.15,738.82 43,740.68 44.85,744.09 46.7,748.82 48.55,744.29 50.4,742.64 52.25,743.27 54.1,745.15 55.95,740.84 57.8,744.35 59.65,745.6 61.5,752.06 63.35,744.08 65.2,748.9 67.05,739.51 68.9,748.39 70.75,745.11 72.6,741.82 74.45,744.24 76.3,748.59 78.15,742.83 80,749.19 81.85,751.52 83.7,751.99 85.55,751.98 87.4,738.38 89.25,745.97 91.1,741.15 92.95,748.81 94.8,744.71 96.65,745.42 98.5,746.54 100.35,741.58 102.5,742.5 103.2,721.8 103.9,743 105.9,754.17 107.75,742.22 109.6,744.45 111.45,734.22 113.3,732.41 115.15,730.92 117,732.35 118.85,726.82 120.7,718.66 122.55,707.97 124.4,706.7 126.25,687.02 128.1,679.09 129.95,674.99 131.8,659.8 133.65,653.57 135.5,644.75 137.35,629.65 139.2,619.97 141.05,605.96 142.9,593.29 144.75,576.91 146.6,579.29 148.45,581.65 150.3,574.17 152.15,576.53 153.6,569.5 155.85,584.27 157.7,576.77 159.55,581.49 161.4,585.86 163.25,589.03 165.1,584.16 166.95,597.8 168.8,590.6 170.65,599.68 172.5,597.55 174.35,602.23 176.2,609.23 178.05,608.31 179.9,608.71 181.75,607.13 183.6,610.84 185.45,610.47 187.3,624.9 189.15,614.58 191,613.89 192.85,632.6 194.7,635.58 196.55,634.34 198.4,643.26 200.25,642.01 202.1,647.71 203.95,656.64 205.8,661.79 207.65,664.88 209.5,678.68 211.35,681.82 213.2,686.22 215.05,688.2 216.9,699.37 218.75,704.73 220.6,713.37 222.45,723.64 224.3,724.98 226.15,733.45 228,739.63 229.85,741.14 231.7,755.28 233.55,736.06 235.4,744.06 237.25,738.72 239.1,744.03 240.95,756.33 242.8,736.55 244.65,742.96 246.5,747.46 248.35,744.79 250.2,748.7 252.05,736.93 253.9,748.99 255.75,739.79 257.6,738.54 259.45,747.04 261.3,746.61 263.15,740.86 265,740.43 266.85,743.37 268.7,744.28 270.55,743.52 272.4,739.49 274.25,733.26 276.1,750.57 277.95,745.15 279.8,738.4 281.65,736.83 283.5,741.01 285.35,742.33 287.2,734.15 289.05,750.97 290.9,746.33 292.75,742.76 294.6,745.96 296.45,745.4 298.3,749.36 300.15,745.03 302,750.31 303.85,751.67 305.7,742.8 307.55,742.13 309.4,740.07 311.25,743.18 313.1,740.82 314.95,744.33 316.8,745.74 318.65,746.84 320.5,738.77 322.35,749.45 324.2,742.8 326.05,743.74 327.9,741.82 329.75,734.73 331.6,745.49" fill="none" stroke="#111" stroke-width="1.8" stroke-linejoin="round" stroke-linecap="round" />
<polyline points="28.2,740.2 29,740.2 29.8,740.2 30.6,740.2 31.4,740.2 32.2,740.2 33,740.2 33.8,740.2 34.6,740.2 35.4,740.2 36.2,740.2 37,740.2 37.8,740.2 38.6,740.2 39.4,740.2 40.2,740.2 41,740.2 41.8,740.2 42.6,740.2 43.4,740.2 44.2,740.2 45,740.2 45.8,740.2 46.6,740.2 47.4,740.2 48.2,740.2 49,740.2 49.8,740.2 50.6,740.2 51.4,740.2 52.2,740.2 53,740.2 53.8,740.2 54.6,740.2 55.4,740.2 56.2,740.2 57,740.2 57.8,740.2 58.6,740.2 59.4,740.2 60.2,740.2 61,740.2 61.8,740.2 62.6,740.2 63.4,740.2 64.2,740.2 65,740.2 65.8,740.2 66.6,740.2 67.4,740.2 68.2,740.2 69,740.2 69.8,740.2 70.6,740.2 71.4,740.2 72.2,740.2 73,740.2 73.8,740.2 74.6,740.2 75.4,740.2 76.2,740.2 77,740.2 77.8,740.19 78.6,740.19 79.4,740.19 80.2,740.19 81,740.19 81.8,740.18 82.6,740.18 83.4,740.17 84.2,740.17 85,740.16 85.8,740.15 86.6,740.14 87.4,740.13 88.2,740.11 89,740.09 89.8,740.07 90.6,740.04 91.4,740.01 92.2,739.97 93,739.93 93.8,739.88 94.6,739.82 95.4,739.74 96.2,739.66 97,739.56 97.8,739.45 98.6,739.32 99.4,739.17 100.2,739 101,738.8 101.8,738.58 102.6,738.32 103.4,738.02 104.2,737.69 105,737.32 105.8,736.89 106.6,736.41 107.4,735.88 108.2,735.28 109,734.61 109.8,733.87 110.6,733.05 111.4,732.14 112.2,731.14 113,730.04 113.8,728.83 114.6,727.52 115.4,726.08 116.2,724.53 117,722.85 117.8,721.04 118.6,719.09 119.4,717 120.2,714.77 121,712.4 121.8,709.88 122.6,707.22 123.4,704.41 124.2,701.47 125,698.38 125.8,695.17 126.6,691.83 127.4,688.38 128.2,684.82 129,681.16 129.8,677.42 130.6,673.62 131.4,669.76 132.2,665.86 133,661.95 133.8,658.05 134.6,654.16 135.4,650.32 136.2,646.55 137,642.86 137.8,639.28 138.6,635.84 139.4,632.56 140.2,629.45 141,626.53 141.8,623.84 142.6,621.39 143.4,619.18 144.2,617.25 145,615.61 145.8,614.26 146.6,613.22 147.4,612.5 148.2,612.09 149,612.01 149.8,612.25 150.6,612.82 151.4,613.7 152.2,614.9 153,616.4 153.8,618.18 154.6,620.25 155.4,622.58 156.2,625.16 157,627.96 157.8,630.98 158.6,634.18 159.4,637.55 160.2,641.06 161,644.69 161.8,648.42 162.6,652.23 163.4,656.1 164.2,660 165,663.91 165.8,667.81 166.6,671.69 167.4,675.53 168.2,679.3 169,683 169.8,686.61 170.6,690.12 171.4,693.51 172.2,696.79 173,699.94 173.8,702.96 174.6,705.83 175.4,708.57 176.2,711.16 177,713.6 177.8,715.9 178.6,718.06 179.4,720.08 180.2,721.96 181,723.71 181.8,725.32 182.6,726.82 183.4,728.19 184.2,729.45 185,730.6 185.8,731.65 186.6,732.6 187.4,733.47 188.2,734.25 189,734.95 189.8,735.59 190.6,736.15 191.4,736.66 192.2,737.11 193,737.51 193.8,737.86 194.6,738.18 195.4,738.45 196.2,738.69 197,738.9 197.8,739.09 198.6,739.25 199.4,739.39 200.2,739.51 201,739.61 201.8,739.7 202.6,739.78 203.4,739.85 204.2,739.9 205,739.95 205.8,739.99 206.6,740.03 207.4,740.06 208.2,740.08 209,740.1 209.8,740.12 210.6,740.13 211.4,740.14 212.2,740.15 213,740.16 213.8,740.17 214.6,740.18 215.4,740.18 216.2,740.18 217,740.19 217.8,740.19 218.6,740.19 219.4,740.19 220.2,740.19 221,740.2 221.8,740.2 222.6,740.2 223.4,740.2 224.2,740.2 225,740.2 225.8,740.2 226.6,740.2 227.4,740.2 228.2,740.2 229,740.2 229.8,740.2 230.6,740.2 231.4,740.2 232.2,740.2 233,740.2 233.8,740.2 234.6,740.2 235.4,740.2 236.2,740.2 237,740.2 237.8,740.2 238.6,740.2 239.4,740.2 240.2,740.2 241,740.2 241.8,740.2 242.6,740.2 243.4,740.2 244.2,740.2 245,740.2 245.8,740.2 246.6,740.2 247.4,740.2 248.2,740.2 249,740.2 249.8,740.2 250.6,740.2 251.4,740.2 252.2,740.2 253,740.2 253.8,740.2 254.6,740.2 255.4,740.2 256.2,740.2 257,740.2 257.8,740.2 258.6,740.2 259.4,740.2 260.2,740.2 261,740.2 261.8,740.2 262.6,740.2 263.4,740.2 264.2,740.2 265,740.2 265.8,740.2 266.6,740.2 267.4,740.2 268.2,740.2 269,740.2 269.8,740.2 270.6,740.2 271.4,740.2 272.2,740.2 273,740.2 273.8,740.2 274.6,740.2 275.4,740.2 276.2,740.2 277,740.2 277.8,740.2 278.6,740.2 279.4,740.2 280.2,740.2 281,740.2 281.8,740.2 282.6,740.2 283.4,740.2 284.2,740.2 285,740.2 285.8,740.2 286.6,740.2 287.4,740.2 288.2,740.2 289,740.2 289.8,740.2 290.6,740.2 291.4,740.2 292.2,740.2 293,740.2 293.8,740.2 294.6,740.2 295.4,740.2 296.2,740.2 297,740.2 297.8,740.2 298.6,740.2 299.4,740.2 300.2,740.2 301,740.2 301.8,740.2 302.6,740.2 303.4,740.2 304.2,740.2 305,740.2 305.8,740.2 306.6,740.2 307.4,740.2 308.2,740.2 309,740.2 309.8,740.2 310.6,740.2 311.4,740.2 312.2,740.2 313,740.2 313.8,740.2 314.6,740.2 315.4,740.2 316.2,740.2 317,740.2 317.8,740.2 318.6,740.2 319.4,740.2 320.2,740.2 321,740.2 321.8,740.2 322.6,740.2 323.4,740.2 324.2,740.2 325,740.2 325.8,740.2 326.6,740.2 327.4,740.2 328.2,740.2 329,740.2 329.8,740.2 330.6,740.2 331.4,740.2 332.2,740.2" fill="none" stroke="#e8161c" stroke-width="1.8" stroke-linejoin="round" stroke-linecap="round" />
<polyline points="28.2,740.2 29,740.2 29.8,740.2 30.6,740.2 31.4,740.2 32.2,740.2 33,740.2 33.8,740.2 34.6,740.2 35.4,740.2 36.2,740.2 37,740.2 37.8,740.2 38.6,740.2 39.4,740.2 40.2,740.2 41,740.2 41.8,740.2 42.6,740.2 43.4,740.2 44.2,740.2 45,740.2 45.8,740.2 46.6,740.2 47.4,740.2 48.2,740.2 49,740.2 49.8,740.2 50.6,740.2 51.4,740.2 52.2,740.2 53,740.2 53.8,740.2 54.6,740.2 55.4,740.2 56.2,740.2 57,740.2 57.8,740.2 58.6,740.2 59.4,740.2 60.2,740.2 61,740.2 61.8,740.2 62.6,740.2 63.4,740.2 64.2,740.2 65,740.2 65.8,740.2 66.6,740.2 67.4,740.2 68.2,740.2 69,740.2 69.8,740.2 70.6,740.2 71.4,740.2 72.2,740.2 73,740.2 73.8,740.2 74.6,740.2 75.4,740.2 76.2,740.2 77,740.2 77.8,740.2 78.6,740.2 79.4,740.2 80.2,740.2 81,740.2 81.8,740.2 82.6,740.2 83.4,740.19 84.2,740.19 85,740.19 85.8,740.19 86.6,740.19 87.4,740.19 88.2,740.19 89,740.18 89.8,740.18 90.6,740.18 91.4,740.17 92.2,740.17 93,740.16 93.8,740.16 94.6,740.15 95.4,740.15 96.2,740.14 97,740.13 97.8,740.12 98.6,740.11 99.4,740.09 100.2,740.08 101,740.06 101.8,740.04 102.6,740.02 103.4,739.99 104.2,739.96 105,739.93 105.8,739.9 106.6,739.86 107.4,739.81 108.2,739.76 109,739.71 109.8,739.64 110.6,739.57 111.4,739.5 112.2,739.41 113,739.32 113.8,739.21 114.6,739.1 115.4,738.97 116.2,738.83 117,738.67 117.8,738.5 118.6,738.31 119.4,738.11 120.2,737.88 121,737.64 121.8,737.37 122.6,737.08 123.4,736.76 124.2,736.42 125,736.04 125.8,735.64 126.6,735.2 127.4,734.73 128.2,734.22 129,733.67 129.8,733.07 130.6,732.44 131.4,731.76 132.2,731.03 133,730.26 133.8,729.43 134.6,728.54 135.4,727.6 136.2,726.61 137,725.55 137.8,724.43 138.6,723.24 139.4,721.99 140.2,720.68 141,719.29 141.8,717.84 142.6,716.31 143.4,714.72 144.2,713.05 145,711.31 145.8,709.5 146.6,707.62 147.4,705.66 148.2,703.64 149,701.54 149.8,699.38 150.6,697.16 151.4,694.87 152.2,692.52 153,690.12 153.8,687.66 154.6,685.15 155.4,682.59 156.2,680 157,677.36 157.8,674.7 158.6,672.01 159.4,669.31 160.2,666.59 161,663.86 161.8,661.14 162.6,658.42 163.4,655.72 164.2,653.04 165,650.39 165.8,647.78 166.6,645.22 167.4,642.71 168.2,640.27 169,637.89 169.8,635.6 170.6,633.39 171.4,631.27 172.2,629.25 173,627.34 173.8,625.55 174.6,623.88 175.4,622.34 176.2,620.92 177,619.65 177.8,618.52 178.6,617.54 179.4,616.71 180.2,616.03 181,615.51 181.8,615.15 182.6,614.95 183.4,614.91 184.2,615.03 185,615.31 185.8,615.75 186.6,616.35 187.4,617.1 188.2,618.01 189,619.07 189.8,620.27 190.6,621.61 191.4,623.09 192.2,624.7 193,626.43 193.8,628.29 194.6,630.25 195.4,632.32 196.2,634.48 197,636.74 197.8,639.07 198.6,641.48 199.4,643.96 200.2,646.5 201,649.08 201.8,651.71 202.6,654.38 203.4,657.07 204.2,659.78 205,662.5 205.8,665.22 206.6,667.95 207.4,670.66 208.2,673.36 209,676.04 209.8,678.68 210.6,681.3 211.4,683.88 212.2,686.41 213,688.89 213.8,691.33 214.6,693.7 215.4,696.02 216.2,698.28 217,700.47 217.8,702.6 218.6,704.66 219.4,706.65 220.2,708.57 221,710.41 221.8,712.19 222.6,713.89 223.4,715.52 224.2,717.08 225,718.57 225.8,719.99 226.6,721.34 227.4,722.63 228.2,723.84 229,724.99 229.8,726.08 230.6,727.11 231.4,728.08 232.2,728.99 233,729.85 233.8,730.65 234.6,731.4 235.4,732.11 236.2,732.76 237,733.38 237.8,733.95 238.6,734.48 239.4,734.97 240.2,735.42 241,735.84 241.8,736.23 242.6,736.59 243.4,736.92 244.2,737.23 245,737.51 245.8,737.76 246.6,738 247.4,738.21 248.2,738.41 249,738.59 249.8,738.75 250.6,738.9 251.4,739.03 252.2,739.16 253,739.27 253.8,739.37 254.6,739.46 255.4,739.54 256.2,739.61 257,739.68 257.8,739.73 258.6,739.79 259.4,739.83 260.2,739.88 261,739.91 261.8,739.95 262.6,739.98 263.4,740.01 264.2,740.03 265,740.05 265.8,740.07 266.6,740.08 267.4,740.1 268.2,740.11 269,740.12 269.8,740.13 270.6,740.14 271.4,740.15 272.2,740.16 273,740.16 273.8,740.17 274.6,740.17 275.4,740.18 276.2,740.18 277,740.18 277.8,740.18 278.6,740.19 279.4,740.19 280.2,740.19 281,740.19 281.8,740.19 282.6,740.19 283.4,740.19 284.2,740.2 285,740.2 285.8,740.2 286.6,740.2 287.4,740.2 288.2,740.2 289,740.2 289.8,740.2 290.6,740.2 291.4,740.2 292.2,740.2 293,740.2 293.8,740.2 294.6,740.2 295.4,740.2 296.2,740.2 297,740.2 297.8,740.2 298.6,740.2 299.4,740.2 300.2,740.2 301,740.2 301.8,740.2 302.6,740.2 303.4,740.2 304.2,740.2 305,740.2 305.8,740.2 306.6,740.2 307.4,740.2 308.2,740.2 309,740.2 309.8,740.2 310.6,740.2 311.4,740.2 312.2,740.2 313,740.2 313.8,740.2 314.6,740.2 315.4,740.2 316.2,740.2 317,740.2 317.8,740.2 318.6,740.2 319.4,740.2 320.2,740.2 321,740.2 321.8,740.2 322.6,740.2 323.4,740.2 324.2,740.2 325,740.2 325.8,740.2 326.6,740.2 327.4,740.2 328.2,740.2 329,740.2 329.8,740.2 330.6,740.2 331.4,740.2 332.2,740.2" fill="none" stroke="#17177f" stroke-width="1.8" stroke-linejoin="round" stroke-linecap="round" />
<rect x="27.6" y="546.8" width="305.2" height="225.4" fill="none" stroke="#444" stroke-width="1.3"/>
<line x1="27.6" y1="772.2" x2="27.6" y2="767.7" stroke="#444" stroke-width="1.2"/>
<line x1="71.2" y1="772.2" x2="71.2" y2="767.7" stroke="#444" stroke-width="1.2"/>
<line x1="114.8" y1="772.2" x2="114.8" y2="767.7" stroke="#444" stroke-width="1.2"/>
<line x1="158.4" y1="772.2" x2="158.4" y2="767.7" stroke="#444" stroke-width="1.2"/>
<line x1="202" y1="772.2" x2="202" y2="767.7" stroke="#444" stroke-width="1.2"/>
<line x1="245.6" y1="772.2" x2="245.6" y2="767.7" stroke="#444" stroke-width="1.2"/>
<line x1="289.2" y1="772.2" x2="289.2" y2="767.7" stroke="#444" stroke-width="1.2"/>
<line x1="332.8" y1="772.2" x2="332.8" y2="767.7" stroke="#444" stroke-width="1.2"/>
<line x1="49.4" y1="772.2" x2="49.4" y2="769.7" stroke="#444" stroke-width="1.2"/>
<line x1="93" y1="772.2" x2="93" y2="769.7" stroke="#444" stroke-width="1.2"/>
<line x1="136.6" y1="772.2" x2="136.6" y2="769.7" stroke="#444" stroke-width="1.2"/>
<line x1="180.2" y1="772.2" x2="180.2" y2="769.7" stroke="#444" stroke-width="1.2"/>
<line x1="223.8" y1="772.2" x2="223.8" y2="769.7" stroke="#444" stroke-width="1.2"/>
<line x1="267.4" y1="772.2" x2="267.4" y2="769.7" stroke="#444" stroke-width="1.2"/>
<line x1="311" y1="772.2" x2="311" y2="769.7" stroke="#444" stroke-width="1.2"/>
<text x="27.6" y="787.7" font-size="12.4" text-anchor="middle" font-weight="normal" fill="#111" >128</text>
<text x="71.2" y="787.7" font-size="12.4" text-anchor="middle" font-weight="normal" fill="#111" >130</text>
<text x="114.8" y="787.7" font-size="12.4" text-anchor="middle" font-weight="normal" fill="#111" >132</text>
<text x="158.4" y="787.7" font-size="12.4" text-anchor="middle" font-weight="normal" fill="#111" >134</text>
<text x="202" y="787.7" font-size="12.4" text-anchor="middle" font-weight="normal" fill="#111" >136</text>
<text x="245.6" y="787.7" font-size="12.4" text-anchor="middle" font-weight="normal" fill="#111" >138</text>
<text x="289.2" y="787.7" font-size="12.4" text-anchor="middle" font-weight="normal" fill="#111" >140</text>
<text x="332.8" y="787.7" font-size="12.4" text-anchor="middle" font-weight="normal" fill="#111" >142</text>
<text x="100.4" y="811.8" font-size="18.15" fill="#111" textLength="154" lengthAdjust="spacingAndGlyphs">Binding Energy (eV)</text>
<text transform="translate(23.7,658.4) rotate(-90)" font-size="18.3" text-anchor="middle" fill="#111">Intensity (a.u.)</text>
<text x="29.4" y="567.5" font-size="25.5" text-anchor="start" font-weight="bold" fill="#111" >(e)</text>
<text x="88.2" y="590.6" font-size="12.6" text-anchor="start" font-weight="normal" fill="#111" >133.47 eV</text>
<line x1="117.5" y1="595" x2="135.79" y2="608.35" stroke="#111" stroke-width="1.6"/>
<polygon points="141.6,612.6 132.39,609.96 135.79,608.35 136.28,604.63" fill="#111"/>
<text x="92.1" y="618.6" font-size="12.8" text-anchor="start" fill="#111" textLength="44.1" lengthAdjust="spacingAndGlyphs"><tspan dy="0">Sr 3d</tspan><tspan dy="4.8" font-size="12.29">3/2</tspan></text>
<text x="200" y="589.9" font-size="12.6" text-anchor="start" font-weight="normal" fill="#111" >135.07 eV</text>
<line x1="221.9" y1="593.9" x2="197.45" y2="611.41" stroke="#111" stroke-width="1.6"/>
<polygon points="191.6,615.6 197,607.68 197.45,611.41 200.84,613.04" fill="#111"/>
<text x="200.4" y="622.6" font-size="12.8" text-anchor="start" fill="#111" textLength="43.3" lengthAdjust="spacingAndGlyphs"><tspan dy="0">Sr 3d</tspan><tspan dy="4.8" font-size="12.29">5/2</tspan></text>
<text x="292.9" y="569.7" font-size="13" text-anchor="start" font-weight="normal" fill="#111" >Sr 3d</text>
<polyline points="372,761.07 372.65,758.09 373.3,762.77 373.95,758.81 374.6,759.88 375.25,758.96 375.9,760.7 376.55,758.63 377.2,760.48 377.85,758.59 378.5,759.78 379.15,758.59 379.8,759.83 380.45,759.93 381.1,760.31 381.75,758.65 382.4,760.67 383.05,757.81 383.7,760.56 384.35,758.29 385,760.03 385.65,758.94 386.3,758.95 386.95,756.59 387.6,759.18 388.25,757.69 388.9,758.62 389.55,756.7 390.2,758.76 390.85,756.63 391.5,758.37 392.15,756.62 392.8,757.88 393.45,756.91 394.1,757 394.75,756.37 395.4,759.91 396.05,755.27 396.7,757.08 397.35,755.65 398,757.2 398.65,755.32 399.3,757.08 399.95,752.9 400.6,754.66 401.25,753.5 401.9,756.04 402.55,752.22 403.2,754.59 403.85,753.51 404.5,753.49 405.15,753.57 405.8,754.62 406.45,749.7 407.1,751.94 407.75,750.11 408.4,751.33 409.05,747.34 409.7,749.47 410.35,745.06 411,747.6 411.65,743.97 412.3,745.45 412.95,741.61 413.6,743.69 414.25,740.15 414.9,740.04 415.55,736.22 416.2,737.86 416.85,734.83 417.5,739.96 418.15,734.63 418.8,735.68 419.45,733.01 420.1,734.19 420.75,731.06 421.4,733.07 422.05,731.65 422.7,732.03 423.35,730.38 424,731.67 424.65,728.38 425.3,731.6 425.95,731.34 426.6,731.74 427.25,730.38 427.9,735.26 428.55,731.81 429.2,733.35 429.85,732.21 430.5,733.99 431.15,734.5 431.8,735.58 432.45,730.65 433.1,737.3 433.75,734.76 434.4,737.08 435.05,734.29 435.7,736.06 436.35,735.98 437,738.51 437.65,735.45 438.3,740.18 438.95,736.32 439.6,740.93 440.25,736.59 440.9,739.62 441.55,737.29 442.2,740.07 442.85,738.43 443.5,740.82 444.15,738.27 444.8,741.08 445.45,739.94 446.1,742.15 446.75,741.81 447.4,744.99 448.05,739.62 448.7,743.38 449.35,736.43 450,741.86 450.65,740.1 451.3,741.6 451.95,741.98 452.6,743.79 453.25,740.11 453.9,747.26 454.55,742.54 455.2,743.82 455.85,743.34 456.5,747.4 457.15,741.9 457.8,745.95 458.45,744.31 459.1,745.98 459.75,742.67 460.4,747.19 461.05,743.73 461.7,748.01 462.35,744.85 463,746.9 463.65,745.97 464.3,748.32 464.95,745.83 465.6,747.52 466.25,746.51 466.9,746.75 467.55,746.62 468.2,748.85 468.85,747.01 469.5,748.69 470.15,743.87 470.8,748.6 471.45,744.47 472.1,747.96 472.75,745.41 473.4,747.55 474.05,745.88 474.7,746.78 475.35,744.82 476,747.31 476.65,745.73 477.3,747.7 477.95,745.01 478.6,748.27 479.25,745.63 479.9,746.24 480.55,744.4 481.2,746.17 481.85,744.76 482.5,745.93 483.15,744.17 483.8,747.33 484.45,743.55 485.1,745.23 485.75,742.96 486.4,746.66 487.05,740.67 487.7,747.07 488.35,743.62 489,746.75 489.65,743.07 490.3,746.39 490.95,742.72 491.6,747.03 492.25,743.8 492.9,747.17 493.55,743.97 494.2,743.77 494.85,743.36 495.5,747.27 496.15,742.94 496.8,744.02 497.45,743.78 498.1,745.42 498.75,744.61 499.4,745.7 500.05,744.01 500.7,749.15 501.35,744.05 502,747.92 502.65,743.47 503.3,745.47 503.95,745.06 504.6,747.66 505.25,745.82 505.9,747.26 506.55,746.85 507.2,748.35 507.85,746.77 508.5,749.92 509.15,744.58 509.8,748.1 510.45,745.76 511.1,748.31 511.75,744.59 512.4,745.97 513.05,744.4 513.7,747.5 514.35,743.9 515,747.04 515.65,743.79 516.3,745.77 516.95,742.34 517.6,745.07 518.25,740.61 518.9,746.31 519.55,743.38 520.2,744.05 520.85,741.46 521.5,745.44 522.15,741.17 522.8,743.84 523.45,738.94 524.1,744.92 524.75,740.34 525.4,743.81 526.05,739.52 526.7,739.52 527.35,740.25 528,742.6 528.65,739.65 529.3,740.65 529.95,736.63 530.6,739.99 531.25,737.61 531.9,737.74 532.55,737.1 533.2,739.46 533.85,737.75 534.5,739.76 535.15,732.65 535.8,738.91 536.45,736.33 537.1,736.69 537.75,734.36 538.4,735.69 539.05,735.61 539.7,736.47 540.35,732.54 541,736.79 541.65,735.22 542.3,736.42 542.95,734.96 543.6,737.51 544.25,735.72 544.9,735.08 545.55,733.89 546.2,735.5 546.85,732.96 547.5,734.93 548.15,733.75 548.8,735.06 549.45,731.19 550.1,737.95 550.75,733.58 551.4,736.16 552.05,736.06 552.7,737.19 553.35,735.99 554,737.78 554.65,735.85 555.3,736.62 555.95,734.83 556.6,740.02 557.25,736.68 557.9,738.84 558.55,736.83 559.2,737.8 559.85,734.32 560.5,739.1 561.15,737.53 561.8,738.82 562.45,736.37 563.1,740.65 563.75,737.11 564.4,740.3 565.05,737.47 565.7,740.12 566.35,738.63 567,741.74 567.65,737.47 568.3,739.73 568.95,738.4 569.6,739.83 570.25,737.85 570.9,740.5 571.55,738.64 572.2,740.45 572.85,738.66 573.5,741.81 574.15,737.36 574.8,740.54 575.45,739.16 576.1,743.2 576.75,737.64 577.4,742.33 578.05,736.92 578.7,742.18 579.35,738 580,741.04 580.65,739.58 581.3,741.18 581.95,740.7 582.6,741.54 583.25,739.86 583.9,741.48 584.55,740.65 585.2,742.84 585.85,740.12 586.5,743.65 587.15,740.05 587.8,741.46 588.45,740.11 589.1,741.87 589.75,740.09 590.4,743.58 591.05,739.66 591.7,743.91 592.35,740.91 593,743.21 593.65,739.46 594.3,742.08 594.95,739.89 595.6,742.37 596.25,741.52 596.9,743.53 597.55,740.62 598.2,744.35 598.85,738.75 599.5,741.83 600.15,740.11 600.8,742.57 601.45,739.98 602.1,742.08 602.75,740.49 603.4,741.67 604.05,738.25 604.7,743.71 605.35,740.6 606,743.11 606.65,739.06 607.3,742.34 607.95,742.24 608.6,742.34 609.25,741.57 609.9,744.62 610.55,739.15 611.2,744.68 611.85,741.54 612.5,741.74 613.15,739.04 613.8,743.34 614.45,740.01 615.1,743.85 615.75,742.26 616.4,743.31 617.05,741.31 617.7,742.78 618.35,742 619,742.19 619.65,739.54 620.3,741.78 620.95,741.58 621.6,745.93 622.25,742.56 622.9,742.75 623.55,741.97 624.2,743.17 624.85,740.87 625.5,743.96 626.15,739.13 626.8,743.95 627.45,740.99 628.1,743.54 628.75,741.5 629.4,745.34 630.05,743.01 630.7,744.52 631.35,743.11 632,744.09 632.65,742.24 633.3,744.2 633.95,740.67 634.6,745.41 635.25,743.47 635.9,745.55 636.55,741.01 637.2,745.29 637.85,743.18 638.5,746.46 639.15,743.49 639.8,744.95 640.45,741.69 641.1,745.14 641.75,741.28 642.4,744.02 643.05,741.13 643.7,744.83 644.35,742.25 645,743.25 645.65,742.65 646.3,743.4 646.95,745.52 647.6,745.82 648.25,741.39 648.9,743.72 649.55,742.35 650.2,743.96 650.85,743.68 651.5,744.79 652.15,743.25 652.8,745.13 653.45,742.76 654.1,744.78 654.75,741.49 655.4,745.31 656.05,743.15 656.7,745.43 657.35,741.67 658,743.83 658.65,743.71 659.3,744.47 659.95,743.29 660.6,747.41 661.25,740.74 661.9,744.81 662.55,742.61 663.2,745.05 663.85,743.01 664.5,745.75 665.15,743.61 665.8,743.41 666.45,744.83 667.1,745.32 667.75,743.12 668.4,745.29 669.05,745.27 669.7,745.61 670.35,743.13 671,746.91 671.65,743.77 672.3,746.18 672.95,742.23" fill="none" stroke="#111" stroke-width="1.6" stroke-linejoin="round" stroke-linecap="round" />
<polyline points="372,727.84 372.65,726.49 373.3,730.36 373.95,726.87 374.6,726.64 375.25,725.85 375.9,726.72 376.55,724.84 377.2,728.92 377.85,726.02 378.5,726.76 379.15,723.93 379.8,727.65 380.45,725.84 381.1,725.97 381.75,725.11 382.4,727.27 383.05,724.62 383.7,727.08 384.35,721.93 385,728.62 385.65,723.3 386.3,725.85 386.95,720.99 387.6,726.31 388.25,720.26 388.9,723.92 389.55,723.08 390.2,724.4 390.85,723.85 391.5,724.35 392.15,721.49 392.8,723.36 393.45,722.93 394.1,724.69 394.75,720.8 395.4,726.42 396.05,721.31 396.7,722.35 397.35,720.49 398,724.26 398.65,719.9 399.3,721.6 399.95,719.8 400.6,720.66 401.25,718.44 401.9,718.92 402.55,716.14 403.2,718.35 403.85,716.69 404.5,719.24 405.15,717.74 405.8,717.61 406.45,716.04 407.1,716.86 407.75,713.13 408.4,716.05 409.05,710.3 409.7,711.33 410.35,708.95 411,713.2 411.65,707.41 412.3,706.61 412.95,704.69 413.6,708.71 414.25,702.11 414.9,703.72 415.55,701.27 416.2,700.75 416.85,697.89 417.5,698.25 418.15,696.63 418.8,698.51 419.45,693.67 420.1,698.01 420.75,693.11 421.4,697.08 422.05,689.63 422.7,695.42 423.35,690.16 424,694.64 424.65,691.71 425.3,696.35 425.95,693.38 426.6,697.78 427.25,693.96 427.9,696.4 428.55,695.31 429.2,697.55 429.85,694.14 430.5,698.78 431.15,696.31 431.8,698.32 432.45,695.84 433.1,699.36 433.75,699.94 434.4,699.37 435.05,699.47 435.7,698.63 436.35,695.79 437,701.2 437.65,699.6 438.3,701.37 438.95,699.71 439.6,700.53 440.25,699.76 440.9,701.94 441.55,701.4 442.2,701.61 442.85,699.8 443.5,703.49 444.15,702.2 444.8,703 445.45,701.49 446.1,704.13 446.75,703.43 447.4,704.77 448.05,702.33 448.7,705.56 449.35,704.4 450,708.99 450.65,704.04 451.3,706.92 451.95,704.4 452.6,707.12 453.25,706.02 453.9,708.44 454.55,705.06 455.2,707.96 455.85,707.25 456.5,708.55 457.15,707.67 457.8,709.32 458.45,707.17 459.1,707.34 459.75,707.15 460.4,709.89 461.05,709.15 461.7,713.11 462.35,708.04 463,711.08 463.65,710.79 464.3,715.17 464.95,709.61 465.6,710.59 466.25,709.31 466.9,710.78 467.55,709.98 468.2,712.33 468.85,709.19 469.5,710.57 470.15,707.5 470.8,711.19 471.45,707.64 472.1,710.99 472.75,709.56 473.4,711.71 474.05,707.31 474.7,713.47 475.35,708.43 476,713.09 476.65,708.07 477.3,712.51 477.95,706.23 478.6,710.78 479.25,708.52 479.9,710.65 480.55,708.9 481.2,709.96 481.85,709.26 482.5,708.75 483.15,708.3 483.8,709.45 484.45,710.16 485.1,708.45 485.75,708.52 486.4,709.26 487.05,707.25 487.7,710.31 488.35,708.45 489,709.92 489.65,708.08 490.3,709.6 490.95,706.83 491.6,707.52 492.25,705.61 492.9,708.31 493.55,706 494.2,711.57 494.85,706.25 495.5,706.25 496.15,705.96 496.8,710.34 497.45,703.31 498.1,709.93 498.75,704.81 499.4,708.23 500.05,705.95 500.7,709.79 501.35,707.46 502,709.34 502.65,703.94 503.3,708.85 503.95,707.46 504.6,708.66 505.25,704.9 505.9,708.66 506.55,708.74 507.2,709.31 507.85,703.48 508.5,709.44 509.15,705.13 509.8,709.93 510.45,706.6 511.1,709.58 511.75,707.17 512.4,709.72 513.05,707 513.7,712.09 514.35,707.19 515,709.36 515.65,708.8 516.3,710.15 516.95,708.11 517.6,708.29 518.25,706.41 518.9,707.74 519.55,705.68 520.2,705.88 520.85,705.27 521.5,706.05 522.15,705.34 522.8,706.51 523.45,701.76 524.1,704.98 524.75,703.1 525.4,705.18 526.05,700.24 526.7,702.71 527.35,701.72 528,701.61 528.65,699.27 529.3,702.1 529.95,700.72 530.6,700.79 531.25,699.08 531.9,700.72 532.55,698.69 533.2,700.35 533.85,698.02 534.5,700.96 535.15,696.79 535.8,698.64 536.45,697.73 537.1,700.24 537.75,696.82 538.4,698.93 539.05,697.07 539.7,701.85 540.35,698.59 541,699.75 541.65,696.67 542.3,699.85 542.95,692.86 543.6,698.05 544.25,695.83 544.9,697.62 545.55,697.55 546.2,700.97 546.85,696.13 547.5,701.44 548.15,698.53 548.8,699.82 549.45,698.8 550.1,700.87 550.75,698.75 551.4,701.11 552.05,698.58 552.7,699.81 553.35,698.66 554,701.7 554.65,696.76 555.3,703.22 555.95,698.9 556.6,701.54 557.25,700.26 557.9,702.34 558.55,700.55 559.2,704.71 559.85,700.22 560.5,701.13 561.15,700.07 561.8,702.52 562.45,698.78 563.1,704.13 563.75,702.16 564.4,703.66 565.05,702.88 565.7,705.99 566.35,700.88 567,705.27 567.65,703.76 568.3,704.92 568.95,704.45 569.6,704.99 570.25,704.1 570.9,703.92 571.55,704.56 572.2,705.31 572.85,702.2 573.5,705.61 574.15,704.84 574.8,705.93 575.45,703.23 576.1,704.84 576.75,704.53 577.4,704.72 578.05,702.97 578.7,707.15 579.35,704.66 580,704.91 580.65,705.12 581.3,705.4 581.95,704.31 582.6,705.09 583.25,701.06 583.9,704.4 584.55,703.25 585.2,706.59 585.85,703.13 586.5,706.41 587.15,702.79 587.8,706.51 588.45,706.09 589.1,706.68 589.75,704.09 590.4,706.1 591.05,703.58 591.7,707.47 592.35,704.1 593,707.46 593.65,705.11 594.3,707.93 594.95,704.69 595.6,707.46 596.25,705.46 596.9,705.75 597.55,706.29 598.2,706.48 598.85,706.56 599.5,706.97 600.15,705.27 600.8,708.58 601.45,705.17 602.1,708.34 602.75,705.43 603.4,706.9 604.05,703.92 604.7,707.4 605.35,706.03 606,706.79 606.65,705.25 607.3,706.15 607.95,705.65 608.6,706.23 609.25,706.67 609.9,707.79 610.55,703.4 611.2,710.09 611.85,705.47 612.5,707.88 613.15,706.56 613.8,709.81 614.45,705.35 615.1,705.86 615.75,704.27 616.4,708.39 617.05,703.78 617.7,708.44 618.35,706.49 619,707.22 619.65,707.23 620.3,708.76 620.95,703.11 621.6,707.65 622.25,706.49 622.9,709.99 623.55,707.03 624.2,706.81 624.85,706.62 625.5,707.91 626.15,703.8 626.8,707.67 627.45,706.27 628.1,707.35 628.75,706.31 629.4,707.66 630.05,705.37 630.7,710.28 631.35,706.66 632,708.86 632.65,706.64 633.3,709.71 633.95,706.26 634.6,710.17 635.25,705.66 635.9,709.94 636.55,707.86 637.2,709.39 637.85,706.87 638.5,707.3 639.15,706.58 639.8,709.1 640.45,706.98 641.1,707.76 641.75,706.2 642.4,708.97 643.05,705.55 643.7,707.83 644.35,703.25 645,708.24 645.65,707.83 646.3,707.35 646.95,707.46 647.6,707.76 648.25,707.08 648.9,709.34 649.55,704.59 650.2,708.7 650.85,705.84 651.5,707.99 652.15,703.04 652.8,709.81 653.45,703.39 654.1,708.8 654.75,706.94 655.4,708.2 656.05,704.8 656.7,708.74 657.35,705.63 658,707.33 658.65,707.49 659.3,706.85 659.95,707.87 660.6,707.77 661.25,706.44 661.9,708.11 662.55,706.73 663.2,708.02 663.85,705.05 664.5,709.57 665.15,706.13 665.8,710.58 666.45,704.92 667.1,708.99 667.75,706.58 668.4,708.25 669.05,707.33 669.7,707.6 670.35,706.34 671,708.05 671.65,706.55 672.3,708.16 672.95,706.29" fill="none" stroke="#e8161c" stroke-width="1.6" stroke-linejoin="round" stroke-linecap="round" />
<polyline points="372,695.2 372.65,693.77 373.3,697.05 373.95,694.58 374.6,697.15 375.25,694.23 375.9,698.01 376.55,694.56 377.2,697.17 377.85,695.93 378.5,695.45 379.15,693.5 379.8,696.68 380.45,695.26 381.1,695.3 381.75,695.37 382.4,695.57 383.05,692.88 383.7,695.82 384.35,692.39 385,698.8 385.65,693.86 386.3,695.94 386.95,691.7 387.6,694.97 388.25,692.75 388.9,695.28 389.55,693.08 390.2,695.56 390.85,694.42 391.5,696.19 392.15,691.68 392.8,694.18 393.45,693.75 394.1,693.55 394.75,692.79 395.4,694.23 396.05,690.42 396.7,692.21 397.35,690.52 398,692.65 398.65,688.75 399.3,690.46 399.95,688.56 400.6,689.65 401.25,686.33 401.9,685.98 402.55,680.32 403.2,680.05 403.85,677.02 404.5,679.13 405.15,671.74 405.8,669.89 406.45,663.12 407.1,659.96 407.75,653.69 408.4,650.32 409.05,643.14 409.7,636.63 410.35,630.09 411,626.78 411.65,621.2 412.3,619.07 412.95,612.07 413.6,608.07 414.25,602.28 414.9,599.66 415.55,596.13 416.2,595.2 416.85,589.78 417.5,589.64 418.15,584.68 418.8,584.37 419.45,580.72 420.1,582.36 420.75,575.42 421.4,579.09 422.05,575.26 422.7,579.35 423.35,578.03 424,584.36 424.65,580.61 425.3,584.48 425.95,583.15 426.6,589.24 427.25,585.15 427.9,589.49 428.55,589.56 429.2,592.04 429.85,591.18 430.5,596.2 431.15,593.95 431.8,598.35 432.45,598.24 433.1,602.54 433.75,599.27 434.4,604.41 435.05,603.19 435.7,608.24 436.35,604.95 437,610.21 437.65,610.16 438.3,614.01 438.95,611.08 439.6,615.97 440.25,615.4 440.9,618.18 441.55,618.36 442.2,622.62 442.85,622.41 443.5,626.07 444.15,622.78 444.8,626.46 445.45,626.86 446.1,629.79 446.75,629.96 447.4,633.61 448.05,633.16 448.7,636.18 449.35,634.66 450,637.37 450.65,637.76 451.3,640.01 451.95,638.6 452.6,643.21 453.25,642.17 453.9,644.88 454.55,641.06 455.2,644.32 455.85,643.03 456.5,646.19 457.15,645.08 457.8,649.43 458.45,646.93 459.1,649.12 459.75,646.09 460.4,649.66 461.05,649.08 461.7,649.51 462.35,648.11 463,654.37 463.65,649.35 464.3,653.32 464.95,651.98 465.6,651.68 466.25,650.73 466.9,652 467.55,650.62 468.2,652.5 468.85,647.95 469.5,652.06 470.15,648.84 470.8,649.18 471.45,647.5 472.1,649.79 472.75,646.36 473.4,649.1 474.05,645.48 474.7,647.85 475.35,644.92 476,649.31 476.65,644.53 477.3,645.17 477.95,644.11 478.6,645.37 479.25,642.44 479.9,642.18 480.55,639.99 481.2,640.05 481.85,639.05 482.5,639.09 483.15,638.63 483.8,638.47 484.45,637.16 485.1,638.16 485.75,634.75 486.4,637.4 487.05,635.43 487.7,635.19 488.35,631.28 489,634.6 489.65,632.21 490.3,634.94 490.95,631.04 491.6,632.55 492.25,629.34 492.9,632.69 493.55,629.38 494.2,630.74 494.85,629.89 495.5,633.34 496.15,629.92 496.8,633.3 497.45,631.08 498.1,632.82 498.75,630.48 499.4,631.9 500.05,631.88 500.7,634.09 501.35,631.9 502,633.44 502.65,632.58 503.3,634.87 503.95,634.31 504.6,638.48 505.25,633.01 505.9,636.17 506.55,632.8 507.2,634.79 507.85,633.31 508.5,636.39 509.15,634.37 509.8,638.57 510.45,633 511.1,638.87 511.75,636.54 512.4,638.45 513.05,635.07 513.7,639.61 514.35,635.24 515,638.93 515.65,637.09 516.3,640.9 516.95,636.48 517.6,639.6 518.25,637.96 518.9,641.54 519.55,635 520.2,636.77 520.85,630.84 521.5,633.36 522.15,628.94 522.8,629.02 523.45,625.83 524.1,625.36 524.75,619.42 525.4,621.04 526.05,617.3 526.7,620.7 527.35,615.4 528,616.05 528.65,611.02 529.3,613.22 529.95,607.13 530.6,611.9 531.25,608.73 531.9,607.93 532.55,604.25 533.2,606.98 533.85,600.55 534.5,603.04 535.15,601.11 535.8,600.2 536.45,599.77 537.1,597.49 537.75,596.88 538.4,596.52 539.05,595.5 539.7,595.43 540.35,593.27 541,595.88 541.65,593.73 542.3,595.5 542.95,592.48 543.6,596.05 544.25,594.88 544.9,597.98 545.55,595.87 546.2,599.93 546.85,596.98 547.5,599.62 548.15,598.53 548.8,602.76 549.45,601.84 550.1,604.96 550.75,604.05 551.4,606.86 552.05,605.75 552.7,608.3 553.35,606.16 554,611.38 554.65,606.83 555.3,611.34 555.95,609.67 556.6,612.67 557.25,609.97 557.9,613.05 558.55,609.95 559.2,612.44 559.85,609.26 560.5,613.91 561.15,609.31 561.8,615.62 562.45,610.76 563.1,615.43 563.75,614.43 564.4,619.1 565.05,616.81 565.7,621.11 566.35,618.93 567,620.26 567.65,620 568.3,622.68 568.95,619.85 569.6,624.19 570.25,620.56 570.9,622.61 571.55,619.88 572.2,623.94 572.85,620.23 573.5,623.83 574.15,622.82 574.8,625.14 575.45,622.38 576.1,626.18 576.75,622.62 577.4,626.45 578.05,626.15 578.7,628.12 579.35,625.96 580,628.38 580.65,626.39 581.3,629.58 581.95,629.01 582.6,628.48 583.25,628.86 583.9,631.07 584.55,628.8 585.2,632.56 585.85,629.57 586.5,632.1 587.15,631.1 587.8,630.73 588.45,629.43 589.1,631.82 589.75,629.17 590.4,632.53 591.05,627.07 591.7,628.8 592.35,628.91 593,628.77 593.65,626.98 594.3,628.81 594.95,626.82 595.6,628.51 596.25,624.28 596.9,627.14 597.55,623.04 598.2,628.03 598.85,624.18 599.5,625.84 600.15,623.29 600.8,623.9 601.45,621.56 602.1,622.39 602.75,619.59 603.4,622.97 604.05,619.8 604.7,620.54 605.35,617.04 606,620.93 606.65,618.19 607.3,619 607.95,618.13 608.6,619.36 609.25,617.12 609.9,619.48 610.55,617.03 611.2,617.4 611.85,615.29 612.5,616.93 613.15,616.39 613.8,617.68 614.45,615.56 615.1,617.19 615.75,615.93 616.4,618.99 617.05,616.75 617.7,617.8 618.35,615.91 619,618.07 619.65,615.45 620.3,618.47 620.95,615.52 621.6,619 622.25,616.82 622.9,619.56 623.55,616.34 624.2,620.53 624.85,618.63 625.5,621.58 626.15,618.68 626.8,624.05 627.45,620.16 628.1,623.42 628.75,621.48 629.4,622.82 630.05,620.68 630.7,624.51 631.35,622.27 632,622.76 632.65,620.86 633.3,625.89 633.95,624.74 634.6,625.13 635.25,624.14 635.9,626.19 636.55,623.37 637.2,627.41 637.85,622.7 638.5,627.15 639.15,623.56 639.8,626.66 640.45,625.27 641.1,625.13 641.75,625.11 642.4,625.42 643.05,625.02 643.7,627.54 644.35,625.96 645,626.58 645.65,624.54 646.3,627.17 646.95,620.21 647.6,630.18 648.25,624.98 648.9,625.81 649.55,624.65 650.2,626.76 650.85,624.53 651.5,625.44 652.15,623.48 652.8,625.68 653.45,624.5 654.1,626.45 654.75,625.71 655.4,625.68 656.05,625.16 656.7,625.65 657.35,624.58 658,627.63 658.65,623.61 659.3,627.48 659.95,623.55 660.6,626.05 661.25,623.36 661.9,626.94 662.55,624.29 663.2,625.66 663.85,623.59 664.5,626.5 665.15,622.94 665.8,626.12 666.45,622.96 667.1,625.18 667.75,623.74 668.4,625.63 669.05,624.12 669.7,625.88 670.35,624.16 671,626.04 671.65,621.88 672.3,625.27 672.95,623.17" fill="none" stroke="#1515e8" stroke-width="1.6" stroke-linejoin="round" stroke-linecap="round" />
<polyline points="372,660.94 372.65,661.14 373.3,662.99 373.95,658.17 374.6,660.18 375.25,658.8 375.9,661.29 376.55,659.92 377.2,662.15 377.85,660.25 378.5,662.96 379.15,659.28 379.8,660.91 380.45,658.39 381.1,660.72 381.75,660.24 382.4,662.21 383.05,658.82 383.7,660.83 384.35,658.9 385,660.15 385.65,657.31 386.3,660.13 386.95,658.41 387.6,660.14 388.25,657.82 388.9,659.27 389.55,659.29 390.2,660.69 390.85,658.96 391.5,659.97 392.15,658.02 392.8,659.17 393.45,655.57 394.1,659.21 394.75,656.14 395.4,658.14 396.05,657.79 396.7,658.89 397.35,656.17 398,657.86 398.65,653.3 399.3,654.7 399.95,654.22 400.6,655.53 401.25,649.47 401.9,652.78 402.55,649.06 403.2,651.06 403.85,648.44 404.5,648.2 405.15,646.52 405.8,642.16 406.45,638.66 407.1,637.34 407.75,628.64 408.4,631.6 409.05,623.71 409.7,621.95 410.35,615.6 411,615.76 411.65,611.34 412.3,611.51 412.95,607.63 413.6,608.42 414.25,598.76 414.9,602.76 415.55,598.83 416.2,597.75 416.85,593.84 417.5,594.91 418.15,590.85 418.8,591.12 419.45,586.82 420.1,589.16 420.75,588.02 421.4,589.01 422.05,584.96 422.7,589.32 423.35,589.73 424,590.95 424.65,588.19 425.3,591.45 425.95,590.73 426.6,592.78 427.25,592.81 427.9,595.06 428.55,594.46 429.2,597.14 429.85,596.8 430.5,598.92 431.15,598.29 431.8,601.07 432.45,600.42 433.1,602.26 433.75,601.76 434.4,606.15 435.05,602.38 435.7,610.33 436.35,606.18 437,608.5 437.65,609.04 438.3,610 438.95,611.27 439.6,612.22 440.25,612.06 440.9,615.41 441.55,611.58 442.2,616.03 442.85,614.45 443.5,617.81 444.15,616.35 444.8,619.14 445.45,618.99 446.1,620.73 446.75,617.43 447.4,621.42 448.05,620.97 448.7,623.5 449.35,620.89 450,624.35 450.65,622.18 451.3,626.36 451.95,623.87 452.6,624.49 453.25,626.25 453.9,627.05 454.55,624.15 455.2,628.76 455.85,627.55 456.5,627.33 457.15,626.99 457.8,629.87 458.45,628.09 459.1,629.37 459.75,627.3 460.4,632.28 461.05,627.38 461.7,630.13 462.35,630.21 463,633.97 463.65,628.1 464.3,630.11 464.95,627.95 465.6,630.14 466.25,629.3 466.9,631.43 467.55,626.95 468.2,629.88 468.85,628.76 469.5,631.82 470.15,626.47 470.8,630.31 471.45,627.68 472.1,630.43 472.75,626.14 473.4,629.18 474.05,624.39 474.7,629.5 475.35,624.25 476,627.23 476.65,625.29 477.3,626.19 477.95,624.03 478.6,626.42 479.25,625.89 479.9,626 480.55,622.68 481.2,625.45 481.85,622.28 482.5,623.14 483.15,622.7 483.8,624.19 484.45,622.83 485.1,622.52 485.75,620.91 486.4,623.77 487.05,621.29 487.7,622.72 488.35,621.23 489,622.3 489.65,620.64 490.3,624.09 490.95,619.68 491.6,621.08 492.25,619.78 492.9,621.74 493.55,617.23 494.2,621.61 494.85,619.56 495.5,622.33 496.15,617.77 496.8,622.68 497.45,618.77 498.1,622.12 498.75,618.29 499.4,622.89 500.05,620.24 500.7,621.16 501.35,619.44 502,622.35 502.65,621.69 503.3,622.67 503.95,618.39 504.6,623.42 505.25,618.53 505.9,622.65 506.55,620.41 507.2,622.34 507.85,621.74 508.5,623.63 509.15,619.22 509.8,623.52 510.45,621.34 511.1,623.65 511.75,620.27 512.4,623.5 513.05,619.43 513.7,621.98 514.35,619.49 515,622.6 515.65,619.29 516.3,620.92 516.95,617.67 517.6,620.9 518.25,618.88 518.9,622.22 519.55,618.33 520.2,620.2 520.85,614.99 521.5,616.28 522.15,614.96 522.8,616.05 523.45,612.31 524.1,613.39 524.75,611.74 525.4,611.8 526.05,608.66 526.7,609.99 527.35,607.21 528,606.2 528.65,603.28 529.3,605.28 529.95,603.5 530.6,602.79 531.25,600.95 531.9,602.15 532.55,600.84 533.2,598.68 533.85,594.92 534.5,598.53 535.15,594.7 535.8,598.76 536.45,595.34 537.1,596.98 537.75,593.18 538.4,594.63 539.05,593.22 539.7,595.98 540.35,590.33 541,595.37 541.65,595.02 542.3,595.2 542.95,593.52 543.6,597.14 544.25,594.47 544.9,599.24 545.55,596.19 546.2,597.95 546.85,596.59 547.5,603.46 548.15,597.84 548.8,601.48 549.45,598.65 550.1,601.34 550.75,600.37 551.4,603.22 552.05,600.98 552.7,604.22 553.35,601.52 554,603.83 554.65,603.26 555.3,605.03 555.95,604.14 556.6,606.38 557.25,603.84 557.9,606.56 558.55,605.64 559.2,607.96 559.85,605.19 560.5,606.79 561.15,604.45 561.8,607.43 562.45,605.48 563.1,609.29 563.75,604.12 564.4,608.04 565.05,605.59 565.7,609.24 566.35,608.57 567,611.19 567.65,607.84 568.3,610.28 568.95,606.5 569.6,610.11 570.25,607.43 570.9,611.32 571.55,609.46 572.2,611 572.85,607.5 573.5,612.37 574.15,608.73 574.8,610.34 575.45,609.94 576.1,613.11 576.75,610.37 577.4,613.94 578.05,611.67 578.7,611.86 579.35,611.67 580,611.85 580.65,611.12 581.3,611.72 581.95,609.81 582.6,613.51 583.25,609.42 583.9,615.42 584.55,610.14 585.2,612.15 585.85,612.18 586.5,612.51 587.15,610.22 587.8,614.61 588.45,612.1 589.1,612.48 589.75,611.53 590.4,615.29 591.05,610.47 591.7,613.91 592.35,611.47 593,613.7 593.65,612.25 594.3,612.97 594.95,609.39 595.6,611.88 596.25,608.9 596.9,613.04 597.55,609.67 598.2,613.45 598.85,610.86 599.5,613.1 600.15,610.53 600.8,613.05 601.45,610.87 602.1,611.16 602.75,608.78 603.4,612.11 604.05,608.68 604.7,612.58 605.35,609.87 606,611.42 606.65,610.46 607.3,610.62 607.95,607.56 608.6,609.5 609.25,607.78 609.9,608.65 610.55,608.74 611.2,612.18 611.85,605.33 612.5,610.32 613.15,608.69 613.8,610.15 614.45,606.64 615.1,609.35 615.75,606.84 616.4,610.41 617.05,607.57 617.7,611.6 618.35,608.32 619,610.95 619.65,607.17 620.3,611.44 620.95,608.84 621.6,611.17 622.25,609.31 622.9,610.32 623.55,609.8 624.2,611 624.85,610.74 625.5,610.71 626.15,611.5 626.8,611.47 627.45,609.44 628.1,611.07 628.75,609.07 629.4,612.12 630.05,609.79 630.7,612.86 631.35,609.66 632,612.14 632.65,612.27 633.3,611.65 633.95,611.56 634.6,614.17 635.25,610.84 635.9,614.87 636.55,612.47 637.2,614.28 637.85,611.82 638.5,614.16 639.15,612.38 639.8,615.21 640.45,613.01 641.1,614.44 641.75,612.75 642.4,616.39 643.05,612.19 643.7,613.53 644.35,612.59 645,614.36 645.65,612.87 646.3,612.88 646.95,612.4 647.6,612.51 648.25,612.39 648.9,614.41 649.55,612.08 650.2,614.55 650.85,609.72 651.5,613.73 652.15,612.29 652.8,612.85 653.45,611.28 654.1,611.4 654.75,611.16 655.4,614.89 656.05,610.18 656.7,610.91 657.35,611.03 658,612.01 658.65,610.49 659.3,613.65 659.95,610.98 660.6,613.61 661.25,611.99 661.9,612.2 662.55,610.35 663.2,613.18 663.85,610.04 664.5,611.52 665.15,610.59 665.8,613.43 666.45,611.76 667.1,614.71 667.75,608.21 668.4,612.07 669.05,611.94 669.7,612.13 670.35,611.11 671,613.13 671.65,612.39 672.3,612.31 672.95,611.08" fill="none" stroke="#16877f" stroke-width="1.6" stroke-linejoin="round" stroke-linecap="round" />
<line x1="423.1" y1="568" x2="423.1" y2="744" stroke="#111" stroke-width="1.2" stroke-dasharray="1.2 2.8"/>
<line x1="493.3" y1="611" x2="493.3" y2="757" stroke="#111" stroke-width="1.2" stroke-dasharray="1.2 2.8"/>
<line x1="543.2" y1="586" x2="543.2" y2="757" stroke="#111" stroke-width="1.2" stroke-dasharray="1.2 2.8"/>
<rect x="371.3" y="550.3" width="302.5" height="222.6" fill="none" stroke="#444" stroke-width="1.3"/>
<line x1="371.5" y1="772.9" x2="371.5" y2="768.4" stroke="#444" stroke-width="1.2"/>
<line x1="414.5" y1="772.9" x2="414.5" y2="768.4" stroke="#444" stroke-width="1.2"/>
<line x1="457.5" y1="772.9" x2="457.5" y2="768.4" stroke="#444" stroke-width="1.2"/>
<line x1="500.5" y1="772.9" x2="500.5" y2="768.4" stroke="#444" stroke-width="1.2"/>
<line x1="543.5" y1="772.9" x2="543.5" y2="768.4" stroke="#444" stroke-width="1.2"/>
<line x1="586.5" y1="772.9" x2="586.5" y2="768.4" stroke="#444" stroke-width="1.2"/>
<line x1="629.5" y1="772.9" x2="629.5" y2="768.4" stroke="#444" stroke-width="1.2"/>
<line x1="672.5" y1="772.9" x2="672.5" y2="768.4" stroke="#444" stroke-width="1.2"/>
<line x1="393" y1="772.9" x2="393" y2="770.4" stroke="#444" stroke-width="1.2"/>
<line x1="436" y1="772.9" x2="436" y2="770.4" stroke="#444" stroke-width="1.2"/>
<line x1="479" y1="772.9" x2="479" y2="770.4" stroke="#444" stroke-width="1.2"/>
<line x1="522" y1="772.9" x2="522" y2="770.4" stroke="#444" stroke-width="1.2"/>
<line x1="565" y1="772.9" x2="565" y2="770.4" stroke="#444" stroke-width="1.2"/>
<line x1="608" y1="772.9" x2="608" y2="770.4" stroke="#444" stroke-width="1.2"/>
<line x1="651" y1="772.9" x2="651" y2="770.4" stroke="#444" stroke-width="1.2"/>
<text x="371.5" y="788.3" font-size="12.4" text-anchor="middle" font-weight="normal" fill="#111" >705</text>
<text x="414.5" y="788.3" font-size="12.4" text-anchor="middle" font-weight="normal" fill="#111" >710</text>
<text x="457.5" y="788.3" font-size="12.4" text-anchor="middle" font-weight="normal" fill="#111" >715</text>
<text x="500.5" y="788.3" font-size="12.4" text-anchor="middle" font-weight="normal" fill="#111" >720</text>
<text x="543.5" y="788.3" font-size="12.4" text-anchor="middle" font-weight="normal" fill="#111" >725</text>
<text x="586.5" y="788.3" font-size="12.4" text-anchor="middle" font-weight="normal" fill="#111" >730</text>
<text x="629.5" y="788.3" font-size="12.4" text-anchor="middle" font-weight="normal" fill="#111" >735</text>
<text x="672.5" y="788.3" font-size="12.4" text-anchor="middle" font-weight="normal" fill="#111" >740</text>
<text x="447.5" y="808.9" font-size="18.11" fill="#111" textLength="153.7" lengthAdjust="spacingAndGlyphs">Binding Energy (eV)</text>
<text transform="translate(360.7,659.2) rotate(-90)" font-size="17.6" text-anchor="middle" fill="#111">Intensity (a.u.)</text>
<text x="373.6" y="570" font-size="25.5" text-anchor="start" font-weight="bold" fill="#111" >(f)</text>
<text x="403.2" y="567.9" font-size="12.8" text-anchor="start" fill="#111" textLength="45.4" lengthAdjust="spacingAndGlyphs"><tspan dy="0">Fe 2p</tspan><tspan dy="4.8" font-size="12.29">3/2</tspan></text>
<text x="465.7" y="587.8" font-size="12.8" text-anchor="start" fill="#111" textLength="46" lengthAdjust="spacingAndGlyphs"><tspan dy="0">Fe 2p</tspan><tspan dy="4.8" font-size="12.29">3/2</tspan></text>
<text x="469.6" y="605.7" font-size="12.6" text-anchor="start" font-weight="normal" fill="#111" >satellite</text>
<text x="523.4" y="581.9" font-size="12.8" text-anchor="start" fill="#111" textLength="44.7" lengthAdjust="spacingAndGlyphs"><tspan dy="0">Fe 2p</tspan><tspan dy="4.8" font-size="12.29">1/2</tspan></text>
<text x="634.4" y="570.2" font-size="13" text-anchor="start" font-weight="normal" fill="#111" >Fe 2p</text>
<text x="576.6" y="601.4" font-size="13" text-anchor="start" fill="#111" textLength="72.8" lengthAdjust="spacingAndGlyphs"><tspan dy="0">SrFe</tspan><tspan dy="4.55" font-size="9.62">2</tspan><tspan dy="-4.55">O</tspan><tspan dy="4.55" font-size="9.62">4</tspan><tspan dy="-4.55">/TiO</tspan><tspan dy="4.55" font-size="9.62">2</tspan></text>
<text x="576.6" y="651.9" font-size="13" text-anchor="start" fill="#111" textLength="75.4" lengthAdjust="spacingAndGlyphs"><tspan dy="0">ZnFe</tspan><tspan dy="4.55" font-size="9.62">2</tspan><tspan dy="-4.55">O</tspan><tspan dy="4.55" font-size="9.62">4</tspan><tspan dy="-4.55">/TiO</tspan><tspan dy="4.55" font-size="9.62">2</tspan></text>
<line x1="606.4" y1="643.9" x2="610.83" y2="626.38" stroke="#111" stroke-width="1.6"/>
<polygon points="612.6,619.4 613.59,628.93 610.83,626.38 607.19,627.32" fill="#111"/>
<text x="576.2" y="696.6" font-size="13" text-anchor="start" fill="#111" textLength="75.8" lengthAdjust="spacingAndGlyphs"><tspan dy="0">CoFe</tspan><tspan dy="4.55" font-size="9.62">2</tspan><tspan dy="-4.55">O</tspan><tspan dy="4.55" font-size="9.62">4</tspan><tspan dy="-4.55">/TiO</tspan><tspan dy="4.55" font-size="9.62">2</tspan></text>
<text x="579.6" y="732.8" font-size="13" text-anchor="start" fill="#111" textLength="73.3" lengthAdjust="spacingAndGlyphs"><tspan dy="0">NiFe</tspan><tspan dy="4.55" font-size="9.62">2</tspan><tspan dy="-4.55">O</tspan><tspan dy="4.55" font-size="9.62">4</tspan><tspan dy="-4.55">/TiO</tspan><tspan dy="4.55" font-size="9.62">2</tspan></text>
</svg>
</body></html>
